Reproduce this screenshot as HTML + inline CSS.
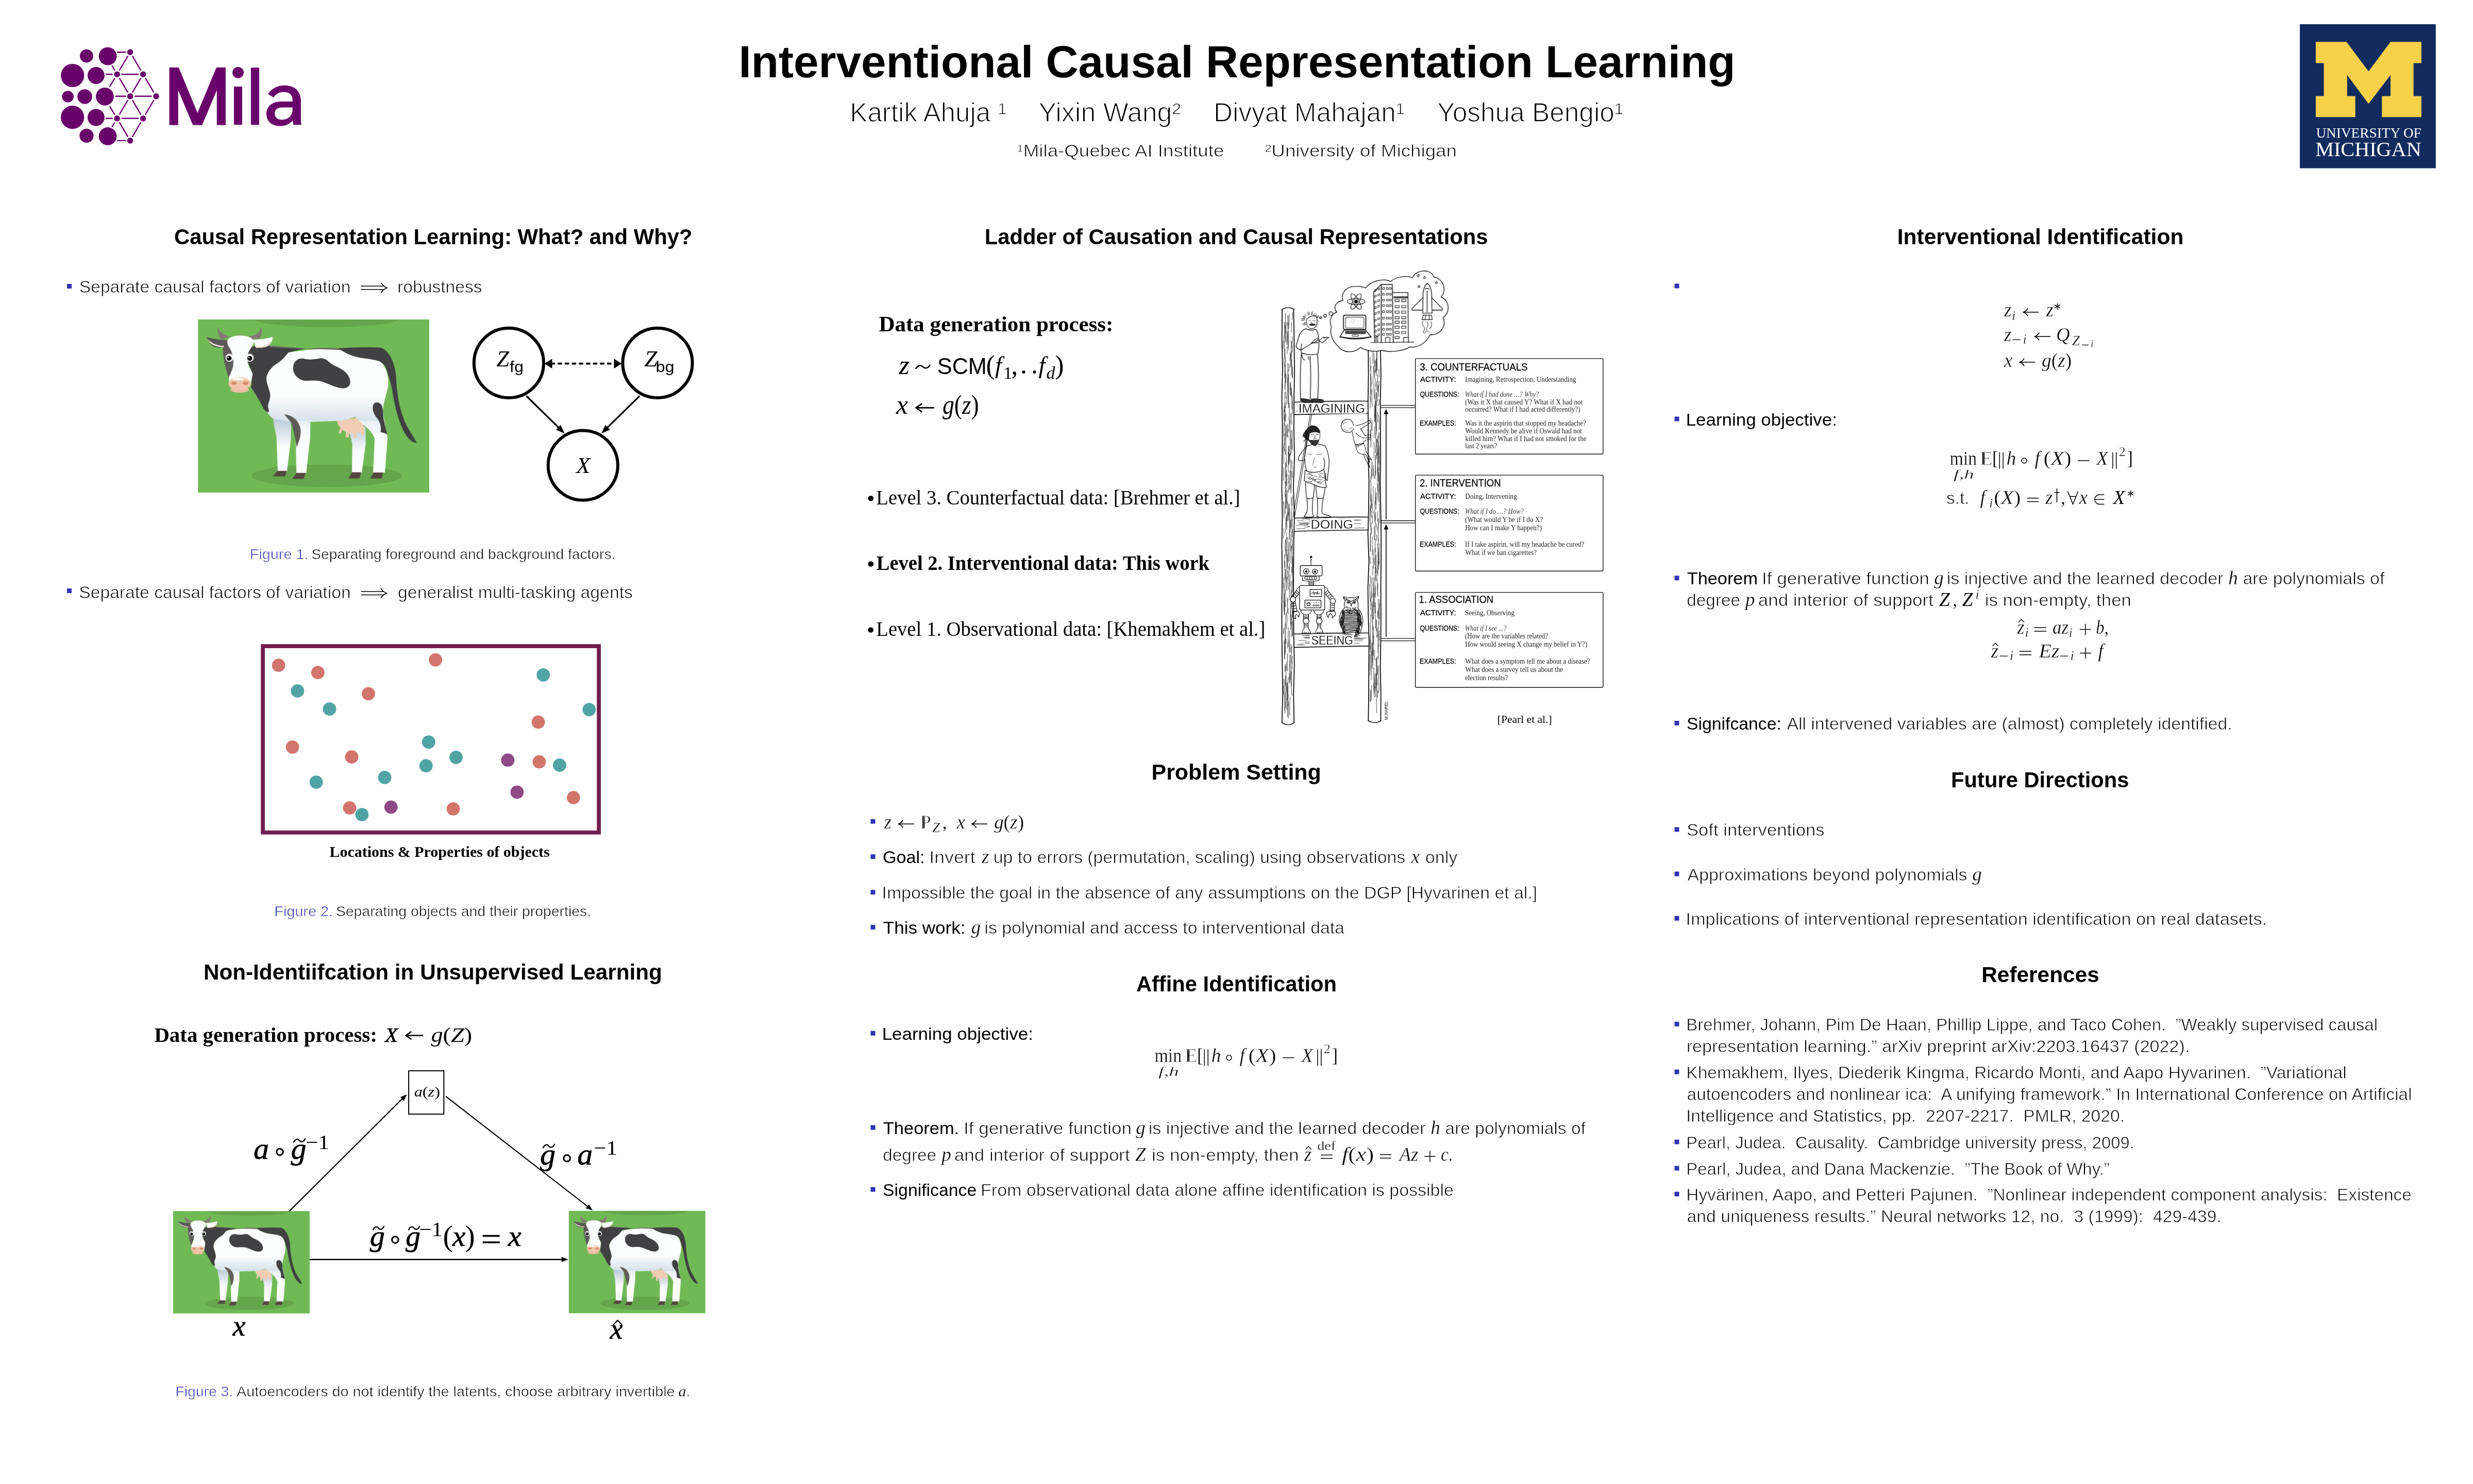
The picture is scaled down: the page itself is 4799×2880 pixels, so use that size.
<!DOCTYPE html>
<html><head><meta charset="utf-8"><title>Interventional Causal Representation Learning</title>
<style>html,body{margin:0;padding:0;background:#fff;}body{width:4799px;height:2880px;overflow:hidden;font-family:"Liberation Sans",sans-serif;}svg{display:block;will-change:transform;}text{white-space:pre;}</style></head>
<body><svg width="4799" height="2880" viewBox="0 0 4799 2880">
<defs><linearGradient id="lg1" x1="0" y1="0" x2="0" y2="1"><stop offset="0" stop-color="#b9c9d6"/><stop offset="0.55" stop-color="#fdfeff"/></linearGradient>
<linearGradient id="lg2" gradientUnits="userSpaceOnUse" x1="0" y1="300" x2="0" y2="1280"><stop offset="0.38" stop-color="#fdfeff"/><stop offset="0.575" stop-color="#d6e2ea"/><stop offset="0.585" stop-color="#e9eff4"/><stop offset="0.72" stop-color="#fdfeff"/></linearGradient>
<linearGradient id="lg3" x1="0" y1="0" x2="1" y2="0"><stop offset="0.5" stop-color="#fdfeff"/><stop offset="1" stop-color="#c9d7e2"/></linearGradient></defs>
<rect width="4799" height="2880" fill="#fff"/>
<g fill="#69016b">
<circle cx="140.7" cy="146.5" r="22.6"/>
<circle cx="140.7" cy="227.6" r="22.6"/>
<circle cx="167.9" cy="108.7" r="12.9"/>
<circle cx="209.1" cy="109.1" r="17.4"/>
<circle cx="186.4" cy="146.5" r="16.5"/>
<circle cx="131.6" cy="187.5" r="11.3"/>
<circle cx="164.5" cy="187.5" r="14.3"/>
<circle cx="203.4" cy="187.3" r="17.4"/>
<circle cx="186.4" cy="228" r="16.5"/>
<circle cx="167.9" cy="263.3" r="13.6"/>
<circle cx="209.1" cy="264.5" r="17.4"/>
<circle cx="252.6" cy="101.2" r="5.8"/>
<circle cx="227.2" cy="144.2" r="5.8"/>
<circle cx="277.7" cy="144.2" r="5.8"/>
<circle cx="252.6" cy="186.8" r="5.8"/>
<circle cx="303" cy="186.8" r="5.8"/>
<circle cx="227.2" cy="229.8" r="5.8"/>
<circle cx="277.7" cy="229.8" r="5.8"/>
<circle cx="252.6" cy="272.9" r="5.8"/>
</g>
<path d="M247.8,109.4L232.0,136.0M257.4,109.4L272.9,136.0M236.7,144.2L268.2,144.2M232.1,152.4L247.7,178.6M272.9,152.4L257.4,178.6M282.6,152.4L298.1,178.6M262.1,186.8L293.5,186.8M247.8,195.0L232.0,221.6M257.4,195.0L272.9,221.6M298.2,195.0L282.5,221.6M236.7,229.8L268.2,229.8M232.0,238.0L247.8,264.7M272.9,238.0L257.4,264.7M228.3,101.2H243.5M228.3,272.9H243.5M206,144.2H217.7M206,229.8H217.7M224.5,186.8H243.5M222.2,152.4L213.2,167.6M217.7,128L222.2,135.9M213.2,206.7L222.2,221.9M222.2,238.4L217.7,245.7" stroke="#69016b" stroke-width="2.4" stroke-linecap="round" fill="none"/>
<g fill="#69016b">
<path d="M329,242.3V131.3H346.5L383.3,220L420.2,131.3H437.5V242.3H421.2V173L392,242.3H374.5L345.3,173V242.3Z" stroke="#69016b" stroke-width="0.8" stroke-linejoin="round"/>
<circle cx="462" cy="140.8" r="10.9"/><rect x="454" y="168" width="16" height="74.3" rx="1.5"/>
<rect x="486.9" y="131.3" width="16.1" height="111" rx="1.5"/>
</g>
<path d="M520.0,182.5C526.9,171.5 539.2,165.7 551.6,165.7C572.2,165.7 583.9,177.0 583.9,196.2L583.9,237.5L584.9,242.3L569.5,242.3L567.8,234.0C561.2,241.6 553.0,244.6 543.3,244.6C526.9,244.6 517.0,234.7 517.0,221.0C517.0,205.9 528.2,197.3 546.1,196.9L567.8,196.9L567.8,194.9C567.8,183.9 561.2,178.6 550.9,178.6C542.0,178.6 535.1,182.5 531.0,189.1ZM567.8,208.6L547.5,208.6C537.8,208.9 533.0,213.4 533.0,220.7C533.0,228.5 539.2,232.3 547.5,232.3C559.8,232.3 567.8,223.7 567.8,212.7Z" fill="#69016b" fill-rule="evenodd"/>
<rect x="4463" y="47" width="263.8" height="279.5" fill="#112b5e"/>
<polygon points="4493.9,81.2 4553.5,81.2 4596.3,138.6 4638.9,81.2 4698.9,81.2 4698.9,122.4 4683.6,122.4 4683.6,186.5 4698.9,186.5 4698.9,227.3 4622.2,227.3 4622.2,186.5 4638.9,186.5 4638.9,145.5 4596.3,201.6 4554.8,145.5 4554.8,186.5 4570.6,186.5 4570.6,227.3 4493.9,227.3 4493.9,186.5 4509.5,186.5 4509.5,122.4 4493.9,122.4" fill="#f7d14a"/>
<text x="4494.4" y="266.9" font-family='"Liberation Serif", serif' font-size="27.5" fill="#fff" textLength="204.4" lengthAdjust="spacingAndGlyphs">UNIVERSITY OF</text>
<text x="4493.2" y="302.9" font-family='"Liberation Serif", serif' font-size="41" fill="#fff" textLength="205.5" lengthAdjust="spacingAndGlyphs">MICHIGAN</text>
<text x="1433.4" y="149.8" font-family='"Liberation Sans", sans-serif' font-size="87" font-weight="bold" textLength="1934.1" lengthAdjust="spacingAndGlyphs">Interventional Causal Representation Learning</text>
<text x="1649.3" y="236.3" font-family='"Liberation Sans", sans-serif' font-size="51" textLength="304.2" lengthAdjust="spacingAndGlyphs" stroke="#fff" stroke-width="1.5">Kartik Ahuja ¹</text>
<text x="2015.6" y="236.3" font-family='"Liberation Sans", sans-serif' font-size="51" textLength="276.2" lengthAdjust="spacingAndGlyphs" stroke="#fff" stroke-width="1.5">Yixin Wang²</text>
<text x="2355.0" y="236.3" font-family='"Liberation Sans", sans-serif' font-size="51" textLength="370.8" lengthAdjust="spacingAndGlyphs" stroke="#fff" stroke-width="1.5">Divyat Mahajan¹</text>
<text x="2789.1" y="236.3" font-family='"Liberation Sans", sans-serif' font-size="51" textLength="360.9" lengthAdjust="spacingAndGlyphs" stroke="#fff" stroke-width="1.5">Yoshua Bengio¹</text>
<text x="1973.6" y="303.8" font-family='"Liberation Sans", sans-serif' font-size="34" textLength="401.7" lengthAdjust="spacingAndGlyphs" stroke="#fff" stroke-width="0.9">¹Mila-Quebec AI Institute</text>
<text x="2455.1" y="303.8" font-family='"Liberation Sans", sans-serif' font-size="34" textLength="371.9" lengthAdjust="spacingAndGlyphs" stroke="#fff" stroke-width="0.9">²University of Michigan</text>
<text x="338.0" y="473.9" font-family='"Liberation Sans", sans-serif' font-size="42" font-weight="bold" textLength="1005.5" lengthAdjust="spacingAndGlyphs">Causal Representation Learning: What? and Why?</text>
<text x="1910.8" y="473.8" font-family='"Liberation Sans", sans-serif' font-size="42" font-weight="bold" textLength="976.8" lengthAdjust="spacingAndGlyphs">Ladder of Causation and Causal Representations</text>
<text x="3681.7" y="473.7" font-family='"Liberation Sans", sans-serif' font-size="42" font-weight="bold" textLength="555.7" lengthAdjust="spacingAndGlyphs">Interventional Identification</text>
<text x="2234.5" y="1512.6" font-family='"Liberation Sans", sans-serif' font-size="42" font-weight="bold" textLength="329.3" lengthAdjust="spacingAndGlyphs">Problem Setting</text>
<text x="2204.9" y="1923.5" font-family='"Liberation Sans", sans-serif' font-size="42" font-weight="bold" textLength="389.0" lengthAdjust="spacingAndGlyphs">Affine Identification</text>
<text x="3786.1" y="1527.7" font-family='"Liberation Sans", sans-serif' font-size="42" font-weight="bold" textLength="345.4" lengthAdjust="spacingAndGlyphs">Future Directions</text>
<text x="3845.2" y="1905.8" font-family='"Liberation Sans", sans-serif' font-size="42" font-weight="bold" textLength="228.6" lengthAdjust="spacingAndGlyphs">References</text>
<text x="394.9" y="1901.0" font-family='"Liberation Sans", sans-serif' font-size="42" font-weight="bold" textLength="890.0" lengthAdjust="spacingAndGlyphs">Non-Identiifcation in Unsupervised Learning</text>
<rect x="130.0" y="551.0" width="9" height="9" fill="#3333b2"/>
<text x="153.8" y="568.0" font-family='"Liberation Sans", sans-serif' font-size="34" textLength="526.6" lengthAdjust="spacingAndGlyphs" stroke="#fff" stroke-width="0.85">Separate causal factors of variation</text>
<path d="M700.0,555.3H746.0M700.0,561.7H746.0" stroke="#000" stroke-width="1.5" fill="none"/><path d="M740.0,549.5Q744.0,556.0 751.0,558.5Q744.0,561.0 740.0,567.5" stroke="#000" stroke-width="1.5" fill="none" stroke-linecap="round"/>
<text x="771.1" y="568.0" font-family='"Liberation Sans", sans-serif' font-size="34" textLength="164.5" lengthAdjust="spacingAndGlyphs" stroke="#fff" stroke-width="0.85">robustness</text>
<svg x="384.2" y="620" width="448.8" height="336" viewBox="57 80 1800 1348" preserveAspectRatio="none"><rect x="57" y="80" width="1800" height="1348" fill="#70ba56"/>
<ellipse cx="1060" cy="72" rx="570" ry="68" fill="#65a54b"/>
<ellipse cx="1060" cy="1297" rx="585" ry="88" fill="#65a54b"/>
<path d="M1470,300 C1540,320 1585,400 1598,520 C1605,640 1620,780 1680,905 C1700,940 1740,1000 1760,1042 C1735,1040 1712,1028 1690,1000 C1650,950 1610,850 1580,700 C1570,640 1560,580 1548,545 Z" fill="#414042"/>
<path d="M640,850 L782,868 L780,1010 L750,1262 L678,1262 L668,1000 Z" fill="url(#lg1)"/>
<path d="M1235,950 L1362,915 L1362,1050 L1332,1272 L1255,1272 L1258,1050 Z" fill="url(#lg1)"/>
<path d="M1140,868 C1200,862 1260,850 1295,845 C1330,870 1355,905 1352,950 L1345,985 Q1335,990 1328,980 L1318,955 L1290,962 L1288,1000 Q1278,1008 1270,998 L1265,965 L1235,968 L1228,998 Q1215,1004 1205,992 L1210,958 L1180,940 L1170,968 Q1158,972 1152,960 L1165,925 C1150,905 1142,888 1140,868 Z" fill="#f0cdb3"/>
<path d="M760,338 C900,315 1050,305 1150,305 C1200,340 1250,365 1320,378 C1400,390 1470,395 1490,420 C1530,470 1545,540 1535,610 C1520,680 1495,740 1498,800 C1505,880 1530,950 1532,1010 L1512,1272 L1420,1272 L1432,1010 C1420,970 1390,935 1350,905 C1320,880 1295,855 1280,838 C1240,855 1180,868 1140,870 L932,876 L930,1000 L900,1277 L823,1277 L818,1010 C810,950 800,900 780,870 C730,868 680,862 640,850 C610,830 590,800 588,770 C600,730 625,700 618,660 C610,610 585,570 590,530 C600,480 640,440 690,410 C720,390 740,360 760,338 Z" fill="url(#lg2)"/>
<path d="M470,290 C520,285 580,282 640,290 C720,296 820,305 900,307 C850,315 800,325 760,338 C740,360 720,390 690,410 C640,440 600,480 590,530 C585,570 610,610 618,660 C625,700 600,730 602,760 C605,780 612,790 608,800 C590,805 575,790 560,760 C540,720 500,650 470,610 C475,570 480,530 478,490 C460,450 445,420 440,380 C440,340 455,310 470,290 Z" fill="#414042"/>
<path d="M600,283 C700,290 820,300 900,307 C1000,300 1100,300 1150,305 C1250,296 1400,292 1490,302 C1400,312 1250,318 1165,318 C1000,308 800,312 620,296 Z" fill="#6b6764"/>
<path d="M1150,305 C1280,298 1400,295 1480,300 C1540,320 1585,400 1598,520 L1548,548 C1540,480 1520,440 1490,420 C1470,395 1400,390 1320,378 C1250,365 1200,340 1150,305 Z" fill="#414042"/>
<path d="M797,455 C800,400 840,378 880,385 C930,400 980,385 1020,382 C1060,385 1080,420 1120,440 C1180,465 1235,500 1242,560 C1245,600 1215,620 1170,615 C1110,605 1060,570 1000,558 C950,550 900,565 860,550 C820,530 795,495 797,455 Z" fill="#414042"/>
<path d="M728,818 C790,825 840,860 855,930 C862,990 840,1040 825,1075 C815,1000 800,930 780,880 Z" fill="#5f5b57"/>
<path d="M1418,760 C1420,730 1445,718 1470,732 C1495,745 1500,790 1498,830 C1505,890 1525,940 1530,975 C1510,965 1490,960 1478,958 C1485,920 1478,890 1460,860 C1435,830 1415,800 1418,760 Z" fill="#414042"/>
<polygon points="675,1258 748,1258 735,1302 640,1302" fill="#554740"/>
<polygon points="825,1275 895,1275 880,1322 790,1322" fill="#554740"/>
<polygon points="1255,1270 1325,1270 1315,1318 1228,1318" fill="#554740"/>
<polygon points="1425,1272 1495,1272 1490,1318 1398,1318" fill="#554740"/>
<path d="M210,135 C225,180 260,205 310,212 L240,236 C215,210 205,170 210,135 Z" fill="#857a77"/>
<path d="M548,135 C540,180 505,205 455,210 L480,234 L540,226 C555,195 558,165 548,135 Z" fill="#857a77"/>
<path d="M125,215 C170,232 230,238 290,240 L292,282 C260,300 220,300 190,296 C160,285 135,250 125,215 Z" fill="#5b5859"/>
<path d="M132,232 C150,270 175,290 260,296 L258,286 C200,282 160,262 132,232 Z" fill="#f3ddd6"/>
<path d="M488,236 C540,236 600,230 638,214 C640,250 615,285 580,296 C550,302 520,302 505,298 Z" fill="#fdfeff"/>
<path d="M508,292 C550,296 600,280 628,250 C615,285 590,300 510,303 Z" fill="#f1d6cd"/>
<path d="M250,300 L290,278 L335,350 L332,440 L296,535 C275,470 252,400 250,300 Z" fill="#5f5b5a"/>
<path d="M285,245 C300,215 340,205 385,205 C430,205 470,215 488,240 C495,260 485,285 465,310 C445,335 438,370 445,420 C455,460 480,480 482,510 L468,570 L300,570 L298,530 C310,500 330,470 332,430 C335,380 325,340 305,305 C290,285 282,265 285,245 Z" fill="#fdfeff"/>
<ellipse cx="382" cy="628" rx="72" ry="22" fill="#ecbfa3"/>
<ellipse cx="382" cy="580" rx="88" ry="50" fill="#f1c6ab"/>
<ellipse cx="372" cy="545" rx="45" ry="9" fill="#fff"/>
<ellipse cx="336" cy="576" rx="22" ry="14" fill="#d98b6e"/><ellipse cx="428" cy="576" rx="22" ry="14" fill="#d98b6e"/>
<circle cx="302" cy="378" r="31" fill="#f4f4f4"/><circle cx="299" cy="382" r="19" fill="#000"/><circle cx="293" cy="376" r="5" fill="#fff"/>
<circle cx="460" cy="378" r="31" fill="#f4f4f4"/><circle cx="460" cy="383" r="19" fill="#000"/><circle cx="454" cy="377" r="5" fill="#fff"/></svg>
<circle cx="987.4" cy="704.4" r="67.6" fill="#fff" stroke="#000" stroke-width="6"/>
<circle cx="1276" cy="704.4" r="67.6" fill="#fff" stroke="#000" stroke-width="6"/>
<circle cx="1131.3" cy="903.1" r="67.6" fill="#fff" stroke="#000" stroke-width="6"/>
<path d="M1068.5,705.7L1194.5,705.7" stroke="#000" stroke-width="3.8" fill="none" stroke-dasharray="8.5 5.2"/><polygon points="1206.5,705.7 1191.5,715.2 1191.5,696.2" fill="#000"/><polygon points="1056.5,705.7 1071.5,715.2 1071.5,696.2" fill="#000"/>
<path d="M1021.5,768.5L1085.9,831.7" stroke="#000" stroke-width="3.2" fill="none"/><polygon points="1095.6,841.2 1078.9,833.9 1088.0,824.7" fill="#000"/>
<path d="M1241.2,768.5L1176.7,831.7" stroke="#000" stroke-width="3.2" fill="none"/><polygon points="1167.0,841.2 1174.6,824.7 1183.7,833.9" fill="#000"/>
<text x="963.3" y="711.0" font-family='"Liberation Serif", serif' font-size="45" font-style="italic">Z</text>
<text x="989.0" y="721.8" font-family='"Liberation Sans", sans-serif' font-size="30" textLength="27.0" lengthAdjust="spacingAndGlyphs">fg</text>
<text x="1250.6" y="711.0" font-family='"Liberation Serif", serif' font-size="45" font-style="italic">Z</text>
<text x="1272.4" y="721.8" font-family='"Liberation Sans", sans-serif' font-size="30" textLength="36.1" lengthAdjust="spacingAndGlyphs">bg</text>
<text x="1118.0" y="918.0" font-family='"Liberation Serif", serif' font-size="45" font-style="italic">X</text>
<text x="484.8" y="1085.0" font-family='"Liberation Sans", sans-serif' font-size="28" fill="#3333b2" textLength="113.7" lengthAdjust="spacingAndGlyphs" stroke="#fff" stroke-width="0.7">Figure 1.</text>
<text x="604.3" y="1085.0" font-family='"Liberation Sans", sans-serif' font-size="28" textLength="590.0" lengthAdjust="spacingAndGlyphs" stroke="#fff" stroke-width="0.7">Separating foreground and background factors.</text>
<rect x="130.0" y="1142.0" width="9" height="9" fill="#3333b2"/>
<text x="153.3" y="1160.7" font-family='"Liberation Sans", sans-serif' font-size="34" textLength="527.3" lengthAdjust="spacingAndGlyphs" stroke="#fff" stroke-width="0.85">Separate causal factors of variation</text>
<path d="M700.7,1148.0H745.2M700.7,1154.4H745.2" stroke="#000" stroke-width="1.5" fill="none"/><path d="M739.2,1142.2Q743.2,1148.7 750.2,1151.2Q743.2,1153.7 739.2,1160.2" stroke="#000" stroke-width="1.5" fill="none" stroke-linecap="round"/>
<text x="772.1" y="1160.7" font-family='"Liberation Sans", sans-serif' font-size="34" textLength="455.8" lengthAdjust="spacingAndGlyphs" stroke="#fff" stroke-width="0.85">generalist multi-tasking agents</text>
<rect x="510.1" y="1254" width="652" height="361.6" fill="#fff" stroke="#6f1f4f" stroke-width="7.8"/>
<circle cx="540.6" cy="1291.1" r="12.9" fill="#d2756c"/>
<circle cx="616.8" cy="1305.2" r="12.9" fill="#d2756c"/>
<circle cx="845.1" cy="1280.6" r="12.9" fill="#d2756c"/>
<circle cx="714.9" cy="1346.3" r="12.9" fill="#d2756c"/>
<circle cx="1044.4" cy="1401.4" r="12.9" fill="#d2756c"/>
<circle cx="567.6" cy="1449.8" r="12.9" fill="#d2756c"/>
<circle cx="682.5" cy="1469.0" r="12.9" fill="#d2756c"/>
<circle cx="1046.4" cy="1478.4" r="12.9" fill="#d2756c"/>
<circle cx="1112.8" cy="1548.0" r="12.9" fill="#d2756c"/>
<circle cx="678.6" cy="1567.9" r="12.9" fill="#d2756c"/>
<circle cx="879.5" cy="1569.8" r="12.9" fill="#d2756c"/>
<circle cx="577.3" cy="1340.8" r="12.9" fill="#50a4a3"/>
<circle cx="639.5" cy="1376.0" r="12.9" fill="#50a4a3"/>
<circle cx="1054.2" cy="1309.9" r="12.9" fill="#50a4a3"/>
<circle cx="1143.3" cy="1377.1" r="12.9" fill="#50a4a3"/>
<circle cx="831.8" cy="1440.1" r="12.9" fill="#50a4a3"/>
<circle cx="885.0" cy="1469.8" r="12.9" fill="#50a4a3"/>
<circle cx="826.7" cy="1486.2" r="12.9" fill="#50a4a3"/>
<circle cx="1085.9" cy="1485.0" r="12.9" fill="#50a4a3"/>
<circle cx="746.6" cy="1508.9" r="12.9" fill="#50a4a3"/>
<circle cx="613.7" cy="1517.9" r="12.9" fill="#50a4a3"/>
<circle cx="702.4" cy="1580.8" r="12.9" fill="#50a4a3"/>
<circle cx="985.4" cy="1475.2" r="12.9" fill="#8f4986"/>
<circle cx="1003.4" cy="1537.4" r="12.9" fill="#8f4986"/>
<circle cx="758.7" cy="1566.3" r="12.9" fill="#8f4986"/>
<text x="639.5" y="1662.9" font-family='"Liberation Serif", serif' font-size="29.5" font-weight="bold" textLength="427.2" lengthAdjust="spacingAndGlyphs">Locations &amp; Properties of objects</text>
<text x="532.3" y="1778.0" font-family='"Liberation Sans", sans-serif' font-size="28" fill="#3333b2" textLength="113.7" lengthAdjust="spacingAndGlyphs" stroke="#fff" stroke-width="0.7">Figure 2.</text>
<text x="651.9" y="1778.0" font-family='"Liberation Sans", sans-serif' font-size="28" textLength="495.2" lengthAdjust="spacingAndGlyphs" stroke="#fff" stroke-width="0.7">Separating objects and their properties.</text>
<text x="299.4" y="2021.5" font-family='"Liberation Serif", serif' font-size="40.5" font-weight="bold" textLength="432.4" lengthAdjust="spacingAndGlyphs">Data generation process:</text>
<text x="747.0" y="2021.5" font-family='"Liberation Serif", serif' font-size="41" font-style="italic" stroke="#000" stroke-width="0.7">X</text>
<path d="M788.3,2009.5H821.0M798.3,2002.0L787.8,2009.5L798.3,2017.0" stroke="#000" stroke-width="2.6" fill="none" stroke-linejoin="miter"/>
<text x="836.5" y="2021.5" font-family='"Liberation Serif", serif' font-size="41" textLength="79.7" lengthAdjust="spacingAndGlyphs"><tspan font-style="italic">g</tspan>(<tspan font-style="italic">Z</tspan>)</text>
<rect x="793.1" y="2078.1" width="68.2" height="84.1" fill="#fff" stroke="#000" stroke-width="2"/>
<text x="803.7" y="2128.2" font-family='"Liberation Serif", serif' font-size="27" textLength="50.3" lengthAdjust="spacingAndGlyphs"><tspan font-style="italic">a</tspan>(<tspan font-style="italic">z</tspan>)</text>
<path d="M561.4,2350.6L782.1,2131.0" stroke="#000" stroke-width="2.2" fill="none"/><polygon points="789.5,2123.7 783.8,2136.4 776.8,2129.3" fill="#000"/>
<path d="M864.9,2127.6L1141.8,2342.5" stroke="#000" stroke-width="2.2" fill="none"/><polygon points="1150.0,2348.9 1136.7,2344.9 1142.8,2337.0" fill="#000"/>
<path d="M600.8,2444.2L1092.4,2444.2" stroke="#000" stroke-width="2.4" fill="none"/><polygon points="1102.8,2444.2 1089.8,2449.2 1089.8,2439.2" fill="#000"/>
<svg x="335.9" y="2350.4" width="265" height="198.3" viewBox="57 80 1800 1348" preserveAspectRatio="none"><rect x="57" y="80" width="1800" height="1348" fill="#70ba56"/>
<ellipse cx="1060" cy="72" rx="570" ry="68" fill="#65a54b"/>
<ellipse cx="1060" cy="1297" rx="585" ry="88" fill="#65a54b"/>
<path d="M1470,300 C1540,320 1585,400 1598,520 C1605,640 1620,780 1680,905 C1700,940 1740,1000 1760,1042 C1735,1040 1712,1028 1690,1000 C1650,950 1610,850 1580,700 C1570,640 1560,580 1548,545 Z" fill="#414042"/>
<path d="M640,850 L782,868 L780,1010 L750,1262 L678,1262 L668,1000 Z" fill="url(#lg1)"/>
<path d="M1235,950 L1362,915 L1362,1050 L1332,1272 L1255,1272 L1258,1050 Z" fill="url(#lg1)"/>
<path d="M1140,868 C1200,862 1260,850 1295,845 C1330,870 1355,905 1352,950 L1345,985 Q1335,990 1328,980 L1318,955 L1290,962 L1288,1000 Q1278,1008 1270,998 L1265,965 L1235,968 L1228,998 Q1215,1004 1205,992 L1210,958 L1180,940 L1170,968 Q1158,972 1152,960 L1165,925 C1150,905 1142,888 1140,868 Z" fill="#f0cdb3"/>
<path d="M760,338 C900,315 1050,305 1150,305 C1200,340 1250,365 1320,378 C1400,390 1470,395 1490,420 C1530,470 1545,540 1535,610 C1520,680 1495,740 1498,800 C1505,880 1530,950 1532,1010 L1512,1272 L1420,1272 L1432,1010 C1420,970 1390,935 1350,905 C1320,880 1295,855 1280,838 C1240,855 1180,868 1140,870 L932,876 L930,1000 L900,1277 L823,1277 L818,1010 C810,950 800,900 780,870 C730,868 680,862 640,850 C610,830 590,800 588,770 C600,730 625,700 618,660 C610,610 585,570 590,530 C600,480 640,440 690,410 C720,390 740,360 760,338 Z" fill="url(#lg2)"/>
<path d="M470,290 C520,285 580,282 640,290 C720,296 820,305 900,307 C850,315 800,325 760,338 C740,360 720,390 690,410 C640,440 600,480 590,530 C585,570 610,610 618,660 C625,700 600,730 602,760 C605,780 612,790 608,800 C590,805 575,790 560,760 C540,720 500,650 470,610 C475,570 480,530 478,490 C460,450 445,420 440,380 C440,340 455,310 470,290 Z" fill="#414042"/>
<path d="M600,283 C700,290 820,300 900,307 C1000,300 1100,300 1150,305 C1250,296 1400,292 1490,302 C1400,312 1250,318 1165,318 C1000,308 800,312 620,296 Z" fill="#6b6764"/>
<path d="M1150,305 C1280,298 1400,295 1480,300 C1540,320 1585,400 1598,520 L1548,548 C1540,480 1520,440 1490,420 C1470,395 1400,390 1320,378 C1250,365 1200,340 1150,305 Z" fill="#414042"/>
<path d="M797,455 C800,400 840,378 880,385 C930,400 980,385 1020,382 C1060,385 1080,420 1120,440 C1180,465 1235,500 1242,560 C1245,600 1215,620 1170,615 C1110,605 1060,570 1000,558 C950,550 900,565 860,550 C820,530 795,495 797,455 Z" fill="#414042"/>
<path d="M728,818 C790,825 840,860 855,930 C862,990 840,1040 825,1075 C815,1000 800,930 780,880 Z" fill="#5f5b57"/>
<path d="M1418,760 C1420,730 1445,718 1470,732 C1495,745 1500,790 1498,830 C1505,890 1525,940 1530,975 C1510,965 1490,960 1478,958 C1485,920 1478,890 1460,860 C1435,830 1415,800 1418,760 Z" fill="#414042"/>
<polygon points="675,1258 748,1258 735,1302 640,1302" fill="#554740"/>
<polygon points="825,1275 895,1275 880,1322 790,1322" fill="#554740"/>
<polygon points="1255,1270 1325,1270 1315,1318 1228,1318" fill="#554740"/>
<polygon points="1425,1272 1495,1272 1490,1318 1398,1318" fill="#554740"/>
<path d="M210,135 C225,180 260,205 310,212 L240,236 C215,210 205,170 210,135 Z" fill="#857a77"/>
<path d="M548,135 C540,180 505,205 455,210 L480,234 L540,226 C555,195 558,165 548,135 Z" fill="#857a77"/>
<path d="M125,215 C170,232 230,238 290,240 L292,282 C260,300 220,300 190,296 C160,285 135,250 125,215 Z" fill="#5b5859"/>
<path d="M132,232 C150,270 175,290 260,296 L258,286 C200,282 160,262 132,232 Z" fill="#f3ddd6"/>
<path d="M488,236 C540,236 600,230 638,214 C640,250 615,285 580,296 C550,302 520,302 505,298 Z" fill="#fdfeff"/>
<path d="M508,292 C550,296 600,280 628,250 C615,285 590,300 510,303 Z" fill="#f1d6cd"/>
<path d="M250,300 L290,278 L335,350 L332,440 L296,535 C275,470 252,400 250,300 Z" fill="#5f5b5a"/>
<path d="M285,245 C300,215 340,205 385,205 C430,205 470,215 488,240 C495,260 485,285 465,310 C445,335 438,370 445,420 C455,460 480,480 482,510 L468,570 L300,570 L298,530 C310,500 330,470 332,430 C335,380 325,340 305,305 C290,285 282,265 285,245 Z" fill="#fdfeff"/>
<ellipse cx="382" cy="628" rx="72" ry="22" fill="#ecbfa3"/>
<ellipse cx="382" cy="580" rx="88" ry="50" fill="#f1c6ab"/>
<ellipse cx="372" cy="545" rx="45" ry="9" fill="#fff"/>
<ellipse cx="336" cy="576" rx="22" ry="14" fill="#d98b6e"/><ellipse cx="428" cy="576" rx="22" ry="14" fill="#d98b6e"/>
<circle cx="302" cy="378" r="31" fill="#f4f4f4"/><circle cx="299" cy="382" r="19" fill="#000"/><circle cx="293" cy="376" r="5" fill="#fff"/>
<circle cx="460" cy="378" r="31" fill="#f4f4f4"/><circle cx="460" cy="383" r="19" fill="#000"/><circle cx="454" cy="377" r="5" fill="#fff"/></svg>
<svg x="1103.8" y="2349.9" width="265.1" height="198.7" viewBox="57 80 1800 1348" preserveAspectRatio="none"><rect x="57" y="80" width="1800" height="1348" fill="#70ba56"/>
<ellipse cx="1060" cy="72" rx="570" ry="68" fill="#65a54b"/>
<ellipse cx="1060" cy="1297" rx="585" ry="88" fill="#65a54b"/>
<path d="M1470,300 C1540,320 1585,400 1598,520 C1605,640 1620,780 1680,905 C1700,940 1740,1000 1760,1042 C1735,1040 1712,1028 1690,1000 C1650,950 1610,850 1580,700 C1570,640 1560,580 1548,545 Z" fill="#414042"/>
<path d="M640,850 L782,868 L780,1010 L750,1262 L678,1262 L668,1000 Z" fill="url(#lg1)"/>
<path d="M1235,950 L1362,915 L1362,1050 L1332,1272 L1255,1272 L1258,1050 Z" fill="url(#lg1)"/>
<path d="M1140,868 C1200,862 1260,850 1295,845 C1330,870 1355,905 1352,950 L1345,985 Q1335,990 1328,980 L1318,955 L1290,962 L1288,1000 Q1278,1008 1270,998 L1265,965 L1235,968 L1228,998 Q1215,1004 1205,992 L1210,958 L1180,940 L1170,968 Q1158,972 1152,960 L1165,925 C1150,905 1142,888 1140,868 Z" fill="#f0cdb3"/>
<path d="M760,338 C900,315 1050,305 1150,305 C1200,340 1250,365 1320,378 C1400,390 1470,395 1490,420 C1530,470 1545,540 1535,610 C1520,680 1495,740 1498,800 C1505,880 1530,950 1532,1010 L1512,1272 L1420,1272 L1432,1010 C1420,970 1390,935 1350,905 C1320,880 1295,855 1280,838 C1240,855 1180,868 1140,870 L932,876 L930,1000 L900,1277 L823,1277 L818,1010 C810,950 800,900 780,870 C730,868 680,862 640,850 C610,830 590,800 588,770 C600,730 625,700 618,660 C610,610 585,570 590,530 C600,480 640,440 690,410 C720,390 740,360 760,338 Z" fill="url(#lg2)"/>
<path d="M470,290 C520,285 580,282 640,290 C720,296 820,305 900,307 C850,315 800,325 760,338 C740,360 720,390 690,410 C640,440 600,480 590,530 C585,570 610,610 618,660 C625,700 600,730 602,760 C605,780 612,790 608,800 C590,805 575,790 560,760 C540,720 500,650 470,610 C475,570 480,530 478,490 C460,450 445,420 440,380 C440,340 455,310 470,290 Z" fill="#414042"/>
<path d="M600,283 C700,290 820,300 900,307 C1000,300 1100,300 1150,305 C1250,296 1400,292 1490,302 C1400,312 1250,318 1165,318 C1000,308 800,312 620,296 Z" fill="#6b6764"/>
<path d="M1150,305 C1280,298 1400,295 1480,300 C1540,320 1585,400 1598,520 L1548,548 C1540,480 1520,440 1490,420 C1470,395 1400,390 1320,378 C1250,365 1200,340 1150,305 Z" fill="#414042"/>
<path d="M797,455 C800,400 840,378 880,385 C930,400 980,385 1020,382 C1060,385 1080,420 1120,440 C1180,465 1235,500 1242,560 C1245,600 1215,620 1170,615 C1110,605 1060,570 1000,558 C950,550 900,565 860,550 C820,530 795,495 797,455 Z" fill="#414042"/>
<path d="M728,818 C790,825 840,860 855,930 C862,990 840,1040 825,1075 C815,1000 800,930 780,880 Z" fill="#5f5b57"/>
<path d="M1418,760 C1420,730 1445,718 1470,732 C1495,745 1500,790 1498,830 C1505,890 1525,940 1530,975 C1510,965 1490,960 1478,958 C1485,920 1478,890 1460,860 C1435,830 1415,800 1418,760 Z" fill="#414042"/>
<polygon points="675,1258 748,1258 735,1302 640,1302" fill="#554740"/>
<polygon points="825,1275 895,1275 880,1322 790,1322" fill="#554740"/>
<polygon points="1255,1270 1325,1270 1315,1318 1228,1318" fill="#554740"/>
<polygon points="1425,1272 1495,1272 1490,1318 1398,1318" fill="#554740"/>
<path d="M210,135 C225,180 260,205 310,212 L240,236 C215,210 205,170 210,135 Z" fill="#857a77"/>
<path d="M548,135 C540,180 505,205 455,210 L480,234 L540,226 C555,195 558,165 548,135 Z" fill="#857a77"/>
<path d="M125,215 C170,232 230,238 290,240 L292,282 C260,300 220,300 190,296 C160,285 135,250 125,215 Z" fill="#5b5859"/>
<path d="M132,232 C150,270 175,290 260,296 L258,286 C200,282 160,262 132,232 Z" fill="#f3ddd6"/>
<path d="M488,236 C540,236 600,230 638,214 C640,250 615,285 580,296 C550,302 520,302 505,298 Z" fill="#fdfeff"/>
<path d="M508,292 C550,296 600,280 628,250 C615,285 590,300 510,303 Z" fill="#f1d6cd"/>
<path d="M250,300 L290,278 L335,350 L332,440 L296,535 C275,470 252,400 250,300 Z" fill="#5f5b5a"/>
<path d="M285,245 C300,215 340,205 385,205 C430,205 470,215 488,240 C495,260 485,285 465,310 C445,335 438,370 445,420 C455,460 480,480 482,510 L468,570 L300,570 L298,530 C310,500 330,470 332,430 C335,380 325,340 305,305 C290,285 282,265 285,245 Z" fill="#fdfeff"/>
<ellipse cx="382" cy="628" rx="72" ry="22" fill="#ecbfa3"/>
<ellipse cx="382" cy="580" rx="88" ry="50" fill="#f1c6ab"/>
<ellipse cx="372" cy="545" rx="45" ry="9" fill="#fff"/>
<ellipse cx="336" cy="576" rx="22" ry="14" fill="#d98b6e"/><ellipse cx="428" cy="576" rx="22" ry="14" fill="#d98b6e"/>
<circle cx="302" cy="378" r="31" fill="#f4f4f4"/><circle cx="299" cy="382" r="19" fill="#000"/><circle cx="293" cy="376" r="5" fill="#fff"/>
<circle cx="460" cy="378" r="31" fill="#f4f4f4"/><circle cx="460" cy="383" r="19" fill="#000"/><circle cx="454" cy="377" r="5" fill="#fff"/></svg>
<text x="491.9" y="2248.9" font-family='"Liberation Serif", serif' font-size="60" font-style="italic" stroke="#000" stroke-width="0.7">a</text>
<circle cx="543.0" cy="2235.6" r="6.3" fill="none" stroke="#000" stroke-width="3"/>
<text x="564.6" y="2248.9" font-family='"Liberation Serif", serif' font-size="60" font-style="italic" stroke="#000" stroke-width="0.7">g</text>
<path d="M570.0,2216.5C574.4,2208.5 578.8,2210.5 581.0,2213.5S588.7,2217.5 592.0,2210.0" stroke="#000" stroke-width="2.4" fill="none" stroke-linecap="round"/>
<text x="593.3" y="2230.0" font-family='"Liberation Serif", serif' font-size="40" textLength="45.8" lengthAdjust="spacingAndGlyphs">−1</text>
<text x="1047.9" y="2259.6" font-family='"Liberation Serif", serif' font-size="60" font-style="italic" stroke="#000" stroke-width="0.7">g</text>
<path d="M1054.0,2227.2C1058.4,2219.2 1062.8,2221.2 1065.0,2224.2S1072.7,2228.2 1076.0,2220.7" stroke="#000" stroke-width="2.4" fill="none" stroke-linecap="round"/>
<circle cx="1100.1" cy="2247.8" r="6.3" fill="none" stroke="#000" stroke-width="3"/>
<text x="1120.3" y="2259.6" font-family='"Liberation Serif", serif' font-size="60" font-style="italic" stroke="#000" stroke-width="0.7">a</text>
<text x="1152.2" y="2241.0" font-family='"Liberation Serif", serif' font-size="40" textLength="45.8" lengthAdjust="spacingAndGlyphs">−1</text>
<text x="717.8" y="2418.0" font-family='"Liberation Serif", serif' font-size="58" font-style="italic" stroke="#000" stroke-width="0.7">g</text>
<path d="M724.0,2386.5C728.2,2378.5 732.4,2380.5 734.5,2383.5S741.9,2387.5 745.0,2380.0" stroke="#000" stroke-width="2.4" fill="none" stroke-linecap="round"/>
<circle cx="766.9" cy="2406.1" r="6.3" fill="none" stroke="#000" stroke-width="3"/>
<text x="787.0" y="2418.0" font-family='"Liberation Serif", serif' font-size="58" font-style="italic" stroke="#000" stroke-width="0.7">g</text>
<path d="M793.0,2386.5C797.2,2378.5 801.4,2380.5 803.5,2383.5S810.9,2387.5 814.0,2380.0" stroke="#000" stroke-width="2.4" fill="none" stroke-linecap="round"/>
<text x="813.3" y="2399.0" font-family='"Liberation Serif", serif' font-size="40" textLength="45.5" lengthAdjust="spacingAndGlyphs">−1</text>
<text x="859.4" y="2418.0" font-family='"Liberation Serif", serif' font-size="58">(</text>
<text x="877.7" y="2418.0" font-family='"Liberation Serif", serif' font-size="58" font-style="italic" stroke="#000" stroke-width="0.7">x</text>
<text x="902.6" y="2418.0" font-family='"Liberation Serif", serif' font-size="58">)</text>
<path d="M936.7,2398.5H969.7M936.7,2411H969.7" stroke="#000" stroke-width="3.4"/>
<text x="986.0" y="2418.0" font-family='"Liberation Serif", serif' font-size="58" font-style="italic" stroke="#000" stroke-width="0.7">x</text>
<text x="451.4" y="2592.3" font-family='"Liberation Serif", serif' font-size="56" font-style="italic" stroke="#000" stroke-width="0.7">x</text>
<text x="1183.8" y="2598.2" font-family='"Liberation Serif", serif' font-size="56" font-style="italic" stroke="#000" stroke-width="0.7">x</text>
<path d="M1190.0,2571.0L1198.5,2562.5L1207.0,2571.0" stroke="#000" stroke-width="2.4" fill="none"/>
<text x="340.4" y="2709.7" font-family='"Liberation Sans", sans-serif' font-size="28" fill="#3333b2" textLength="111.7" lengthAdjust="spacingAndGlyphs" stroke="#fff" stroke-width="0.7">Figure 3.</text>
<text x="459.1" y="2709.7" font-family='"Liberation Sans", sans-serif' font-size="28" textLength="850.5" lengthAdjust="spacingAndGlyphs" stroke="#fff" stroke-width="0.7">Autoencoders do not identify the latents, choose arbitrary invertible</text>
<text x="1316.4" y="2709.7" font-family='"Liberation Serif", serif' font-size="30" font-style="italic" stroke="#fff" stroke-width="0.3">a</text>
<text x="1331.5" y="2709.7" font-family='"Liberation Sans", sans-serif' font-size="28" stroke="#fff" stroke-width="0.7">.</text>
<text x="1705.5" y="642.5" font-family='"Liberation Serif", serif' font-size="42" font-weight="bold" textLength="454.9" lengthAdjust="spacingAndGlyphs">Data generation process:</text>
<text x="1744.4" y="725.6" font-family='"Liberation Serif", serif' font-size="52" font-style="italic">z</text>
<path d="M1777.5,715.0C1782.9,707.0 1788.3,709.0 1791.0,712.0S1800.5,716.0 1804.5,708.5" stroke="#000" stroke-width="2.6" fill="none" stroke-linecap="round"/>
<text x="1818.8" y="725.6" font-family='"Liberation Sans", sans-serif' font-size="44" textLength="96.1" lengthAdjust="spacingAndGlyphs">SCM</text>
<text x="1913.5" y="725.6" font-family='"Liberation Serif", serif' font-size="52">(</text>
<text x="1931.1" y="723.6" font-family='"Liberation Serif", serif' font-size="47" font-style="italic">f</text>
<text x="1947.6" y="734.7" font-family='"Liberation Serif", serif' font-size="33">1</text>
<text x="1962.3" y="725.6" font-family='"Liberation Serif", serif' font-size="52">,</text>
<circle cx="1986.5" cy="722" r="3"/><circle cx="2007.5" cy="722" r="3"/>
<text x="2015.6" y="723.6" font-family='"Liberation Serif", serif' font-size="47" font-style="italic">f</text>
<text x="2030.4" y="734.7" font-family='"Liberation Serif", serif' font-size="34" font-style="italic">d</text>
<text x="2047.3" y="725.6" font-family='"Liberation Serif", serif' font-size="52">)</text>
<text x="1739.1" y="803.3" font-family='"Liberation Serif", serif' font-size="52" font-style="italic">x</text>
<path d="M1778.1,791.3H1812.7M1789.1,783.3L1777.6,791.3L1789.1,799.3" stroke="#000" stroke-width="2.8" fill="none" stroke-linejoin="miter"/>
<text x="1828.9" y="803.3" font-family='"Liberation Serif", serif' font-size="52" textLength="70.9" lengthAdjust="spacingAndGlyphs"><tspan font-style="italic">g</tspan>(<tspan font-style="italic">z</tspan>)</text>
<circle cx="1689.8" cy="967.2" r="5.3"/>
<text x="1700.3" y="979.0" font-family='"Liberation Serif", serif' font-size="39.5" textLength="706.3" lengthAdjust="spacingAndGlyphs">Level 3. Counterfactual data<tspan>:</tspan> [Brehmer et al.]</text>
<circle cx="1689.8" cy="1094.5" r="5.3"/>
<text x="1700.7" y="1106.3" font-family='"Liberation Serif", serif' font-size="39.5" font-weight="bold" textLength="646.3" lengthAdjust="spacingAndGlyphs">Level 2. Interventional data<tspan>:</tspan> This work</text>
<circle cx="1689.8" cy="1222.5" r="5.3"/>
<text x="1700.3" y="1234.3" font-family='"Liberation Serif", serif' font-size="39.5" textLength="755.1" lengthAdjust="spacingAndGlyphs">Level 1. Observational data<tspan>:</tspan> [Khemakhem et al.]</text>
<rect x="1689.5" y="1589.6" width="9" height="9" fill="#3333b2"/>
<text x="1715.4" y="1607.6" font-family='"Liberation Serif", serif' font-size="37" font-style="italic" stroke="#fff" stroke-width="0.4">z</text>
<path d="M1743.9,1599.0H1774.0" stroke="#000" stroke-width="1.6" fill="none"/><path d="M1751.9,1592.0Q1748.9,1597.5 1742.9,1599.0Q1748.9,1600.5 1751.9,1606.0" stroke="#000" stroke-width="1.6" fill="none" stroke-linecap="round"/>
<text x="1785.1" y="1607.6" font-family='"Liberation Serif", serif' font-size="37" textLength="22.1" lengthAdjust="spacingAndGlyphs" stroke="#fff" stroke-width="1.1">P</text>
<path d="M1794.0,1584.4V1606.4" stroke="#000" stroke-width="1.2"/>
<text x="1809.1" y="1614.9" font-family='"Liberation Serif", serif' font-size="27" font-style="italic" stroke="#fff" stroke-width="0.4">Z</text>
<text x="1828.6" y="1607.6" font-family='"Liberation Serif", serif' font-size="37" stroke="#fff" stroke-width="0.4">,</text>
<text x="1856.4" y="1607.6" font-family='"Liberation Serif", serif' font-size="37" font-style="italic" stroke="#fff" stroke-width="0.4">x</text>
<path d="M1886.2,1599.0H1916.0" stroke="#000" stroke-width="1.6" fill="none"/><path d="M1894.2,1592.0Q1891.2,1597.5 1885.2,1599.0Q1891.2,1600.5 1894.2,1606.0" stroke="#000" stroke-width="1.6" fill="none" stroke-linecap="round"/>
<text x="1928.9" y="1607.6" font-family='"Liberation Serif", serif' font-size="37" textLength="58.3" lengthAdjust="spacingAndGlyphs" stroke="#fff" stroke-width="0.4"><tspan font-style="italic">g</tspan>(<tspan font-style="italic">z</tspan>)</text>
<rect x="1689.5" y="1658.0" width="9" height="9" fill="#3333b2"/>
<text x="1712.9" y="1675.0" font-family='"Liberation Sans", sans-serif' font-size="34" textLength="81.6" lengthAdjust="spacingAndGlyphs">Goal:</text>
<text x="1803.3" y="1675.0" font-family='"Liberation Sans", sans-serif' font-size="34" textLength="89.3" lengthAdjust="spacingAndGlyphs" stroke="#fff" stroke-width="0.85">Invert</text>
<text x="1904.9" y="1675.0" font-family='"Liberation Serif", serif' font-size="37" font-style="italic" stroke="#fff" stroke-width="0.4">z</text>
<text x="1927.8" y="1675.0" font-family='"Liberation Sans", sans-serif' font-size="34" textLength="799.5" lengthAdjust="spacingAndGlyphs" stroke="#fff" stroke-width="0.85">up to errors (permutation, scaling) using observations</text>
<text x="2738.5" y="1675.0" font-family='"Liberation Serif", serif' font-size="37" font-style="italic" stroke="#fff" stroke-width="0.4">x</text>
<text x="2765.7" y="1675.0" font-family='"Liberation Sans", sans-serif' font-size="34" textLength="62.7" lengthAdjust="spacingAndGlyphs" stroke="#fff" stroke-width="0.85">only</text>
<rect x="1689.5" y="1727.0" width="9" height="9" fill="#3333b2"/>
<text x="1711.5" y="1744.0" font-family='"Liberation Sans", sans-serif' font-size="34" textLength="1271.7" lengthAdjust="spacingAndGlyphs" stroke="#fff" stroke-width="0.85">Impossible the goal in the absence of any assumptions on the DGP [Hyvarinen et al.]</text>
<rect x="1689.5" y="1794.9" width="9" height="9" fill="#3333b2"/>
<text x="1713.8" y="1811.9" font-family='"Liberation Sans", sans-serif' font-size="34" textLength="159.7" lengthAdjust="spacingAndGlyphs">This work:</text>
<text x="1884.6" y="1811.9" font-family='"Liberation Serif", serif' font-size="37" font-style="italic" stroke="#fff" stroke-width="0.4">g</text>
<text x="1910.4" y="1811.9" font-family='"Liberation Sans", sans-serif' font-size="34" textLength="698.5" lengthAdjust="spacingAndGlyphs" stroke="#fff" stroke-width="0.85">is polynomial and access to interventional data</text>
<rect x="1689.5" y="2000.7" width="9" height="9" fill="#3333b2"/>
<text x="1711.7" y="2017.7" font-family='"Liberation Sans", sans-serif' font-size="34" textLength="293.2" lengthAdjust="spacingAndGlyphs">Learning objective:</text>
<text x="2240.4" y="2061.0" font-family='"Liberation Serif", serif' font-size="37" textLength="52.9" lengthAdjust="spacingAndGlyphs" stroke="#fff" stroke-width="0.4">min</text>
<text x="2248.0" y="2087.7" font-family='"Liberation Serif", serif' font-size="26" textLength="39.6" lengthAdjust="spacingAndGlyphs" stroke="#fff" stroke-width="0.4"><tspan font-style="italic">f</tspan>,<tspan font-style="italic">h</tspan></text>
<text x="2298.5" y="2061.0" font-family='"Liberation Serif", serif' font-size="37" textLength="25.6" lengthAdjust="spacingAndGlyphs" stroke="#fff" stroke-width="1.1">E</text>
<path d="M2307.6,2037.8V2059.8" stroke="#000" stroke-width="1.2"/>
<text x="2322.7" y="2061.0" font-family='"Liberation Serif", serif' font-size="37" stroke="#fff" stroke-width="0.4">[</text>
<path d="M2337.3,2036.5V2068.5M2344.2,2036.5V2068.5" stroke="#000" stroke-width="1.5"/>
<text x="2350.8" y="2061.0" font-family='"Liberation Serif", serif' font-size="37" font-style="italic" stroke="#fff" stroke-width="0.4">h</text>
<circle cx="2385.0" cy="2052.7" r="5" fill="none" stroke="#000" stroke-width="1.5"/>
<text x="2405.6" y="2061.0" font-family='"Liberation Serif", serif' font-size="37" font-style="italic" stroke="#fff" stroke-width="0.4">f</text>
<text x="2422.4" y="2061.0" font-family='"Liberation Serif", serif' font-size="37" textLength="54.2" lengthAdjust="spacingAndGlyphs" stroke="#fff" stroke-width="0.4">(<tspan font-style="italic">X</tspan>)</text>
<path d="M2489.0,2052.7H2511.2" stroke="#000" stroke-width="1.5"/>
<text x="2525.2" y="2061.0" font-family='"Liberation Serif", serif' font-size="37" font-style="italic" stroke="#fff" stroke-width="0.4">X</text>
<path d="M2556.9,2036.5V2068.5M2563.8,2036.5V2068.5" stroke="#000" stroke-width="1.5"/>
<text x="2568.7" y="2044.0" font-family='"Liberation Serif", serif' font-size="26" stroke="#fff" stroke-width="0.4">2</text>
<text x="2584.0" y="2061.0" font-family='"Liberation Serif", serif' font-size="37" stroke="#fff" stroke-width="0.4">]</text>
<rect x="1689.5" y="2183.7" width="9" height="9" fill="#3333b2"/>
<text x="1713.8" y="2200.7" font-family='"Liberation Sans", sans-serif' font-size="34" textLength="147.4" lengthAdjust="spacingAndGlyphs">Theorem.</text>
<text x="1869.9" y="2200.7" font-family='"Liberation Sans", sans-serif' font-size="34" textLength="326.2" lengthAdjust="spacingAndGlyphs" stroke="#fff" stroke-width="0.85">If generative function</text>
<text x="2204.3" y="2200.7" font-family='"Liberation Serif", serif' font-size="37" font-style="italic" stroke="#fff" stroke-width="0.4">g</text>
<text x="2228.7" y="2200.7" font-family='"Liberation Sans", sans-serif' font-size="34" textLength="537.6" lengthAdjust="spacingAndGlyphs" stroke="#fff" stroke-width="0.85">is injective and the learned decoder</text>
<text x="2776.2" y="2200.7" font-family='"Liberation Serif", serif' font-size="37" font-style="italic" stroke="#fff" stroke-width="0.4">h</text>
<text x="2804.3" y="2200.7" font-family='"Liberation Sans", sans-serif' font-size="34" textLength="272.7" lengthAdjust="spacingAndGlyphs" stroke="#fff" stroke-width="0.85">are polynomials of</text>
<text x="1713.2" y="2252.5" font-family='"Liberation Sans", sans-serif' font-size="34" textLength="104.0" lengthAdjust="spacingAndGlyphs" stroke="#fff" stroke-width="0.85">degree</text>
<text x="1827.3" y="2252.5" font-family='"Liberation Serif", serif' font-size="37" font-style="italic" stroke="#fff" stroke-width="0.4">p</text>
<text x="1851.8" y="2252.5" font-family='"Liberation Sans", sans-serif' font-size="34" textLength="341.0" lengthAdjust="spacingAndGlyphs" stroke="#fff" stroke-width="0.85">and interior of support</text>
<text x="2202.9" y="2252.5" font-family='"Liberation Serif", serif' font-size="37" font-style="italic" stroke="#fff" stroke-width="0.4">Z</text>
<text x="2235.1" y="2252.5" font-family='"Liberation Sans", sans-serif' font-size="34" textLength="285.5" lengthAdjust="spacingAndGlyphs" stroke="#fff" stroke-width="0.85">is non-empty, then</text>
<text x="2530.8" y="2252.5" font-family='"Liberation Serif", serif' font-size="37" font-style="italic" stroke="#fff" stroke-width="0.4">z</text>
<path d="M2533.5,2230.5L2539.0,2225.0L2544.5,2230.5" stroke="#000" stroke-width="1.4" fill="none"/>
<text x="2556.3" y="2232.0" font-family='"Liberation Serif", serif' font-size="25" textLength="35.7" lengthAdjust="spacingAndGlyphs" stroke="#fff" stroke-width="0.4">def</text>
<path d="M2562.9,2241.4H2585.9M2562.9,2248.2H2585.9" stroke="#000" stroke-width="1.5"/>
<text x="2603.9" y="2252.5" font-family='"Liberation Serif", serif' font-size="37" textLength="62.4" lengthAdjust="spacingAndGlyphs" stroke="#fff" stroke-width="0.4"><tspan font-style="italic">f</tspan>(<tspan font-style="italic">x</tspan>)</text>
<path d="M2678.1,2240.8H2699.6M2678.1,2247.6H2699.6" stroke="#000" stroke-width="1.5"/>
<text x="2715.5" y="2252.5" font-family='"Liberation Serif", serif' font-size="37" textLength="36.9" lengthAdjust="spacingAndGlyphs" stroke="#fff" stroke-width="0.4"><tspan font-style="italic">Az</tspan></text>
<path d="M2764.2,2244.2H2785.7M2774.9,2233.4V2254.9" stroke="#000" stroke-width="1.5"/>
<text x="2796.0" y="2252.5" font-family='"Liberation Serif", serif' font-size="37" textLength="23.2" lengthAdjust="spacingAndGlyphs" stroke="#fff" stroke-width="0.4"><tspan font-style="italic">c</tspan>.</text>
<rect x="1689.5" y="2303.8" width="9" height="9" fill="#3333b2"/>
<text x="1713.1" y="2320.8" font-family='"Liberation Sans", sans-serif' font-size="34" textLength="182.1" lengthAdjust="spacingAndGlyphs">Significance</text>
<text x="1903.1" y="2320.8" font-family='"Liberation Sans", sans-serif' font-size="34" textLength="917.9" lengthAdjust="spacingAndGlyphs" stroke="#fff" stroke-width="0.85">From observational data alone affine identification is possible</text>
<rect x="3249.5" y="550.5" width="9" height="9" fill="#3333b2"/>
<text x="3889.0" y="614.4" font-family='"Liberation Serif", serif' font-size="37" font-style="italic" stroke="#fff" stroke-width="0.4">z</text>
<text x="3903.9" y="620.5" font-family='"Liberation Serif", serif' font-size="26" font-style="italic" stroke="#fff" stroke-width="0.4">i</text>
<path d="M3926.6,605.8H3956.0" stroke="#000" stroke-width="1.6" fill="none"/><path d="M3934.6,598.8Q3931.6,604.3 3925.6,605.8Q3931.6,607.3 3934.6,612.8" stroke="#000" stroke-width="1.6" fill="none" stroke-linecap="round"/>
<text x="3970.5" y="614.4" font-family='"Liberation Serif", serif' font-size="37" font-style="italic" stroke="#fff" stroke-width="0.4">z</text>
<path d="M3992.4,588.5V601M3987,591.6L3997.8,597.9M3987,597.9L3997.8,591.6" stroke="#000" stroke-width="1.4"/>
<text x="3889.0" y="661.7" font-family='"Liberation Serif", serif' font-size="37" font-style="italic" stroke="#fff" stroke-width="0.4">z</text>
<path d="M3905.4,659.2H3921.0" stroke="#000" stroke-width="1.3"/>
<text x="3925.6" y="666.6" font-family='"Liberation Serif", serif' font-size="26" font-style="italic" stroke="#fff" stroke-width="0.4">i</text>
<path d="M3948.9,653.1H3979.0" stroke="#000" stroke-width="1.6" fill="none"/><path d="M3956.9,646.1Q3953.9,651.6 3947.9,653.1Q3953.9,654.6 3956.9,660.1" stroke="#000" stroke-width="1.6" fill="none" stroke-linecap="round"/>
<text x="3989.9" y="661.7" font-family='"Liberation Serif", serif' font-size="37" font-style="italic" stroke="#fff" stroke-width="0.4">Q</text>
<text x="4020.9" y="669.8" font-family='"Liberation Serif", serif' font-size="27" font-style="italic" stroke="#fff" stroke-width="0.4">Z</text>
<path d="M4040.0,669.5H4053.0" stroke="#000" stroke-width="1.2"/>
<text x="4057.0" y="673.9" font-family='"Liberation Serif", serif' font-size="20" font-style="italic" stroke="#fff" stroke-width="0.4">i</text>
<text x="3888.9" y="711.5" font-family='"Liberation Serif", serif' font-size="37" font-style="italic" stroke="#fff" stroke-width="0.4">x</text>
<path d="M3919.7,702.9H3949.0" stroke="#000" stroke-width="1.6" fill="none"/><path d="M3927.7,695.9Q3924.7,701.4 3918.7,702.9Q3924.7,704.4 3927.7,709.9" stroke="#000" stroke-width="1.6" fill="none" stroke-linecap="round"/>
<text x="3962.0" y="711.5" font-family='"Liberation Serif", serif' font-size="37" textLength="58.3" lengthAdjust="spacingAndGlyphs" stroke="#fff" stroke-width="0.4"><tspan font-style="italic">g</tspan>(<tspan font-style="italic">z</tspan>)</text>
<rect x="3249.5" y="808.5" width="9" height="9" fill="#3333b2"/>
<text x="3271.7" y="825.5" font-family='"Liberation Sans", sans-serif' font-size="34" textLength="293.2" lengthAdjust="spacingAndGlyphs">Learning objective:</text>
<text x="3783.4" y="902.3" font-family='"Liberation Serif", serif' font-size="37" textLength="52.9" lengthAdjust="spacingAndGlyphs" stroke="#fff" stroke-width="0.4">min</text>
<text x="3791.0" y="929.0" font-family='"Liberation Serif", serif' font-size="26" textLength="39.6" lengthAdjust="spacingAndGlyphs" stroke="#fff" stroke-width="0.4"><tspan font-style="italic">f</tspan>,<tspan font-style="italic">h</tspan></text>
<text x="3841.5" y="902.3" font-family='"Liberation Serif", serif' font-size="37" textLength="25.6" lengthAdjust="spacingAndGlyphs" stroke="#fff" stroke-width="1.1">E</text>
<path d="M3850.6,879.1V901.1" stroke="#000" stroke-width="1.2"/>
<text x="3865.7" y="902.3" font-family='"Liberation Serif", serif' font-size="37" stroke="#fff" stroke-width="0.4">[</text>
<path d="M3880.3,877.8V909.8M3887.2,877.8V909.8" stroke="#000" stroke-width="1.5"/>
<text x="3893.8" y="902.3" font-family='"Liberation Serif", serif' font-size="37" font-style="italic" stroke="#fff" stroke-width="0.4">h</text>
<circle cx="3928.0" cy="894.0" r="5" fill="none" stroke="#000" stroke-width="1.5"/>
<text x="3948.6" y="902.3" font-family='"Liberation Serif", serif' font-size="37" font-style="italic" stroke="#fff" stroke-width="0.4">f</text>
<text x="3965.4" y="902.3" font-family='"Liberation Serif", serif' font-size="37" textLength="54.2" lengthAdjust="spacingAndGlyphs" stroke="#fff" stroke-width="0.4">(<tspan font-style="italic">X</tspan>)</text>
<path d="M4032.0,894.0H4054.2" stroke="#000" stroke-width="1.5"/>
<text x="4068.2" y="902.3" font-family='"Liberation Serif", serif' font-size="37" font-style="italic" stroke="#fff" stroke-width="0.4">X</text>
<path d="M4099.9,877.8V909.8M4106.8,877.8V909.8" stroke="#000" stroke-width="1.5"/>
<text x="4111.7" y="885.3" font-family='"Liberation Serif", serif' font-size="26" stroke="#fff" stroke-width="0.4">2</text>
<text x="4127.0" y="902.3" font-family='"Liberation Serif", serif' font-size="37" stroke="#fff" stroke-width="0.4">]</text>
<text x="3777.1" y="978.4" font-family='"Liberation Sans", sans-serif' font-size="34" textLength="44.5" lengthAdjust="spacingAndGlyphs" stroke="#fff" stroke-width="0.85">s.t.</text>
<text x="3842.5" y="978.4" font-family='"Liberation Serif", serif' font-size="37" font-style="italic" stroke="#fff" stroke-width="0.4">f</text>
<text x="3860.1" y="984.5" font-family='"Liberation Serif", serif' font-size="26" font-style="italic" stroke="#fff" stroke-width="0.4">i</text>
<text x="3869.2" y="978.4" font-family='"Liberation Serif", serif' font-size="37" textLength="52.2" lengthAdjust="spacingAndGlyphs" stroke="#fff" stroke-width="0.4">(<tspan font-style="italic">X</tspan>)</text>
<path d="M3933.7,966.7H3956.0M3933.7,973.5H3956.0" stroke="#000" stroke-width="1.5"/>
<text x="3969.3" y="978.4" font-family='"Liberation Serif", serif' font-size="37" font-style="italic" stroke="#fff" stroke-width="0.4">z</text>
<path d="M3991.5,948V975M3986.3,956H3996.7" stroke="#000" stroke-width="1.6"/>
<text x="3999.1" y="978.4" font-family='"Liberation Serif", serif' font-size="37" stroke="#fff" stroke-width="0.4">,</text>
<path d="M4012.6,953.5L4022.6,978.4L4032.6,953.5M4016.6,963.5H4028.6" stroke="#000" stroke-width="1.5" fill="none"/>
<text x="4034.7" y="978.4" font-family='"Liberation Serif", serif' font-size="37" font-style="italic" stroke="#fff" stroke-width="0.4">x</text>
<path d="M4083.3,960H4074.2A9.3,9.3 0 0 0 4074.2,978.6H4083.3M4065.2,969.3H4083.3" stroke="#000" stroke-width="1.5" fill="none"/>
<text x="4100.7" y="978.4" font-family='"Liberation Serif", serif' font-size="37" font-style="italic">X</text>
<path d="M4134.6,951.5V964M4129.2,954.6L4140,960.9M4129.2,960.9L4140,954.6" stroke="#000" stroke-width="1.4"/>
<rect x="3249.5" y="1117.2" width="9" height="9" fill="#3333b2"/>
<text x="3273.8" y="1134.2" font-family='"Liberation Sans", sans-serif' font-size="34" textLength="137.2" lengthAdjust="spacingAndGlyphs">Theorem</text>
<text x="3419.0" y="1134.2" font-family='"Liberation Sans", sans-serif' font-size="34" textLength="324.9" lengthAdjust="spacingAndGlyphs" stroke="#fff" stroke-width="0.85">If generative function</text>
<text x="3753.2" y="1134.2" font-family='"Liberation Serif", serif' font-size="37" font-style="italic" stroke="#fff" stroke-width="0.4">g</text>
<text x="3777.7" y="1134.2" font-family='"Liberation Sans", sans-serif' font-size="34" textLength="536.9" lengthAdjust="spacingAndGlyphs" stroke="#fff" stroke-width="0.85">is injective and the learned decoder</text>
<text x="4324.3" y="1134.2" font-family='"Liberation Serif", serif' font-size="37" font-style="italic" stroke="#fff" stroke-width="0.4">h</text>
<text x="4352.5" y="1134.2" font-family='"Liberation Sans", sans-serif' font-size="34" textLength="274.8" lengthAdjust="spacingAndGlyphs" stroke="#fff" stroke-width="0.85">are polynomials of</text>
<text x="3273.2" y="1176.3" font-family='"Liberation Sans", sans-serif' font-size="34" textLength="104.0" lengthAdjust="spacingAndGlyphs" stroke="#fff" stroke-width="0.85">degree</text>
<text x="3386.9" y="1176.3" font-family='"Liberation Serif", serif' font-size="37" font-style="italic" stroke="#fff" stroke-width="0.4">p</text>
<text x="3411.8" y="1176.3" font-family='"Liberation Sans", sans-serif' font-size="34" textLength="340.1" lengthAdjust="spacingAndGlyphs" stroke="#fff" stroke-width="0.85">and interior of support</text>
<text x="3763.3" y="1176.3" font-family='"Liberation Serif", serif' font-size="37" font-style="italic">Z</text>
<text x="3789.1" y="1176.3" font-family='"Liberation Serif", serif' font-size="37" stroke="#fff" stroke-width="0.4">,</text>
<text x="3807.8" y="1176.3" font-family='"Liberation Serif", serif' font-size="37" font-style="italic">Z</text>
<text x="3833.4" y="1162.3" font-family='"Liberation Serif", serif' font-size="26" font-style="italic" stroke="#fff" stroke-width="0.4">i</text>
<text x="3851.7" y="1176.3" font-family='"Liberation Sans", sans-serif' font-size="34" textLength="284.3" lengthAdjust="spacingAndGlyphs" stroke="#fff" stroke-width="0.85">is non-empty, then</text>
<text x="3914.3" y="1229.8" font-family='"Liberation Serif", serif' font-size="37" font-style="italic" stroke="#fff" stroke-width="0.4">z</text>
<path d="M3917.0,1207.8L3922.5,1202.3L3928.0,1207.8" stroke="#000" stroke-width="1.4" fill="none"/>
<text x="3929.6" y="1235.8" font-family='"Liberation Serif", serif' font-size="26" font-style="italic" stroke="#fff" stroke-width="0.4">i</text>
<path d="M3947.5,1218.1H3971.0M3947.5,1224.9H3971.0" stroke="#000" stroke-width="1.5"/>
<text x="3983.0" y="1229.8" font-family='"Liberation Serif", serif' font-size="37" textLength="31.0" lengthAdjust="spacingAndGlyphs" stroke="#fff" stroke-width="0.4"><tspan font-style="italic">az</tspan></text>
<text x="4014.6" y="1235.8" font-family='"Liberation Serif", serif' font-size="26" font-style="italic" stroke="#fff" stroke-width="0.4">i</text>
<path d="M4036.0,1221.5H4057.5M4046.8,1210.8V1232.2" stroke="#000" stroke-width="1.5"/>
<text x="4067.3" y="1229.8" font-family='"Liberation Serif", serif' font-size="37" textLength="24.6" lengthAdjust="spacingAndGlyphs" stroke="#fff" stroke-width="0.4"><tspan font-style="italic">b</tspan>,</text>
<text x="3863.8" y="1275.7" font-family='"Liberation Serif", serif' font-size="37" font-style="italic" stroke="#fff" stroke-width="0.4">z</text>
<path d="M3866.5,1253.7L3872.0,1248.2L3877.5,1253.7" stroke="#000" stroke-width="1.4" fill="none"/>
<path d="M3880.5,1273.2H3896.0" stroke="#000" stroke-width="1.3"/>
<text x="3900.1" y="1280.7" font-family='"Liberation Serif", serif' font-size="26" font-style="italic" stroke="#fff" stroke-width="0.4">i</text>
<path d="M3919.0,1264.0H3942.0M3919.0,1270.8H3942.0" stroke="#000" stroke-width="1.5"/>
<text x="3956.5" y="1275.7" font-family='"Liberation Serif", serif' font-size="37" textLength="40.1" lengthAdjust="spacingAndGlyphs" stroke="#fff" stroke-width="0.4"><tspan font-style="italic">Ez</tspan></text>
<path d="M3998.0,1273.2H4013.5" stroke="#000" stroke-width="1.3"/>
<text x="4017.6" y="1280.7" font-family='"Liberation Serif", serif' font-size="26" font-style="italic" stroke="#fff" stroke-width="0.4">i</text>
<path d="M4036.5,1267.4H4058.0M4047.2,1256.7V1278.2" stroke="#000" stroke-width="1.5"/>
<text x="4071.5" y="1275.7" font-family='"Liberation Serif", serif' font-size="37" font-style="italic" stroke="#fff" stroke-width="0.4">f</text>
<rect x="3249.5" y="1398.9" width="9" height="9" fill="#3333b2"/>
<text x="3273.1" y="1415.9" font-family='"Liberation Sans", sans-serif' font-size="34" textLength="183.7" lengthAdjust="spacingAndGlyphs">Signifcance:</text>
<text x="3467.4" y="1415.9" font-family='"Liberation Sans", sans-serif' font-size="34" textLength="864.4" lengthAdjust="spacingAndGlyphs" stroke="#fff" stroke-width="0.85">All intervened variables are (almost) completely identified.</text>
<rect x="3249.5" y="1605.3" width="9" height="9" fill="#3333b2"/>
<text x="3273.0" y="1622.3" font-family='"Liberation Sans", sans-serif' font-size="34" textLength="267.6" lengthAdjust="spacingAndGlyphs" stroke="#fff" stroke-width="0.85">Soft interventions</text>
<rect x="3249.5" y="1691.5" width="9" height="9" fill="#3333b2"/>
<text x="3274.5" y="1708.5" font-family='"Liberation Sans", sans-serif' font-size="34" textLength="543.1" lengthAdjust="spacingAndGlyphs" stroke="#fff" stroke-width="0.85">Approximations beyond polynomials</text>
<rect x="3249.5" y="1777.6" width="9" height="9" fill="#3333b2"/>
<text x="3271.4" y="1794.6" font-family='"Liberation Sans", sans-serif' font-size="34" textLength="1128.0" lengthAdjust="spacingAndGlyphs" stroke="#fff" stroke-width="0.85">Implications of interventional representation identification on real datasets.</text>
<text x="3827.2" y="1708.5" font-family='"Liberation Serif", serif' font-size="37" font-style="italic" stroke="#fff" stroke-width="0.4">g</text>
<rect x="3249.5" y="1982.9" width="9" height="9" fill="#3333b2"/>
<text x="3272.3" y="1999.9" font-family='"Liberation Sans", sans-serif' font-size="34" textLength="1341.8" lengthAdjust="spacingAndGlyphs" stroke="#fff" stroke-width="0.85">Brehmer, Johann, Pim De Haan, Phillip Lippe, and Taco Cohen.  ”Weakly supervised causal</text>
<text x="3272.7" y="2041.9" font-family='"Liberation Sans", sans-serif' font-size="34" textLength="976.7" lengthAdjust="spacingAndGlyphs" stroke="#fff" stroke-width="0.85">representation learning.” arXiv preprint arXiv:2203.16437 (2022).</text>
<rect x="3249.5" y="2075.7" width="9" height="9" fill="#3333b2"/>
<text x="3272.3" y="2092.7" font-family='"Liberation Sans", sans-serif' font-size="34" textLength="1281.4" lengthAdjust="spacingAndGlyphs" stroke="#fff" stroke-width="0.85">Khemakhem, Ilyes, Diederik Kingma, Ricardo Monti, and Aapo Hyvarinen.  ”Variational</text>
<text x="3273.6" y="2134.8" font-family='"Liberation Sans", sans-serif' font-size="34" textLength="1406.8" lengthAdjust="spacingAndGlyphs" stroke="#fff" stroke-width="0.85">autoencoders and nonlinear ica:  A unifying framework.” In International Conference on Artificial</text>
<text x="3271.9" y="2177.3" font-family='"Liberation Sans", sans-serif' font-size="34" textLength="851.3" lengthAdjust="spacingAndGlyphs" stroke="#fff" stroke-width="0.85">Intelligence and Statistics, pp.  2207-2217.  PMLR, 2020.</text>
<rect x="3249.5" y="2211.6" width="9" height="9" fill="#3333b2"/>
<text x="3272.3" y="2228.6" font-family='"Liberation Sans", sans-serif' font-size="34" textLength="869.6" lengthAdjust="spacingAndGlyphs" stroke="#fff" stroke-width="0.85">Pearl, Judea.  Causality.  Cambridge university press, 2009.</text>
<rect x="3249.5" y="2262.7" width="9" height="9" fill="#3333b2"/>
<text x="3272.3" y="2279.7" font-family='"Liberation Sans", sans-serif' font-size="34" textLength="821.5" lengthAdjust="spacingAndGlyphs" stroke="#fff" stroke-width="0.85">Pearl, Judea, and Dana Mackenzie.  ”The Book of Why.”</text>
<rect x="3249.5" y="2312.8" width="9" height="9" fill="#3333b2"/>
<text x="3272.3" y="2329.8" font-family='"Liberation Sans", sans-serif' font-size="34" textLength="1407.4" lengthAdjust="spacingAndGlyphs" stroke="#fff" stroke-width="0.85">Hyvärinen, Aapo, and Petteri Pajunen.  ”Nonlinear independent component analysis:  Existence</text>
<text x="3273.6" y="2371.9" font-family='"Liberation Sans", sans-serif' font-size="34" textLength="1037.3" lengthAdjust="spacingAndGlyphs" stroke="#fff" stroke-width="0.85">and uniqueness results.” Neural networks 12, no.  3 (1999):  429-439.</text>
<g stroke="#111" fill="none" stroke-linecap="round" stroke-linejoin="round" stroke-width="1.5">
<path d="M2488.1,600.0 L2487.7,657.4 L2488.9,714.7 L2487.5,772.1 L2488.6,829.4 L2488.2,886.8 L2487.4,944.1 L2488.5,1001.5 L2487.4,1058.9 L2488.3,1116.2 L2487.5,1173.6 L2487.5,1230.9 L2488.3,1288.3 L2489.3,1345.6 L2487.6,1403.0" stroke-width="1.8"/><path d="M2510.3,600.0 L2511.3,657.4 L2512.1,714.7 L2511.2,772.1 L2510.8,829.4 L2512.1,886.8 L2509.9,944.1 L2511.9,1001.5 L2510.5,1058.9 L2510.1,1116.2 L2510.1,1173.6 L2510.5,1230.9 L2511.8,1288.3 L2510.2,1345.6 L2511.2,1403.0" stroke-width="1.8"/><path d="M2488.5,600.0Q2499.8,594.0 2511.0,600.0" stroke-width="1.6"/><path d="M2488.5,1403.0Q2499.8,1410.0 2511.0,1403.0" stroke-width="1.6"/><path d="M2502.2,608.7q-1.3,10.6 -0.9,21.2M2494.6,607.0q-0.6,15.2 0.2,30.4M2498.9,612.1q0.6,9.5 -0.5,19.0M2501.1,613.3q0.7,12.9 -0.4,25.8M2508.2,606.9q0.8,6.8 -0.7,13.5M2499.6,625.4q0.8,5.6 0.1,11.2M2506.3,625.7q0.3,9.7 0.2,19.4M2499.0,629.2q-0.1,17.6 0.3,35.2M2492.1,625.1q1.5,15.5 0.6,31.0M2496.0,625.4q-1.4,10.8 -0.1,21.6M2493.9,631.8q0.8,6.8 -0.7,13.5M2495.3,643.2q-1.3,10.9 -0.1,21.7M2500.6,642.5q1.1,18.3 -0.4,36.5M2498.3,643.4q1.4,10.4 -0.7,20.8M2494.1,634.3q-0.0,8.5 0.2,17.0M2495.6,651.9q-0.4,5.1 0.1,10.1M2507.7,653.2q0.4,15.4 0.4,30.7M2491.9,656.9q1.1,18.5 0.6,37.0M2497.9,647.4q0.4,11.0 -0.9,22.0M2492.2,648.3q-0.5,8.1 -0.9,16.3M2491.0,662.4q-0.4,7.3 -0.9,14.5M2506.3,663.1q-0.7,14.2 -0.3,28.4M2497.4,672.9q1.5,6.8 -0.1,13.7M2499.5,662.4q-0.5,6.3 -0.5,12.6M2505.5,661.3q1.4,7.4 0.1,14.8M2493.6,676.4q0.1,13.1 1.0,26.3M2506.1,679.7q-0.4,15.4 -0.7,30.9M2504.5,686.9q-0.5,13.0 -0.6,26.0M2505.2,687.9q0.9,19.8 0.6,39.5M2503.9,683.2q-0.4,8.4 -0.9,16.8M2491.5,694.6q0.6,9.2 0.9,18.4M2498.8,704.8q1.4,19.1 -0.3,38.1M2494.9,693.8q-0.9,8.4 0.2,16.8M2506.8,697.7q0.5,17.6 0.6,35.2M2492.5,703.7q0.8,14.9 0.5,29.8M2499.4,717.0q-0.5,7.7 0.6,15.4M2508.0,711.6q1.3,10.9 0.4,21.9M2494.0,708.1q1.2,6.9 0.6,13.8M2493.6,719.7q0.5,17.4 -0.3,34.8M2500.6,706.2q1.4,7.0 0.3,13.9M2500.2,727.1q1.1,19.0 0.7,38.0M2494.7,725.1q-0.8,8.8 0.2,17.6M2495.5,722.8q1.2,11.3 -0.3,22.6M2499.0,733.7q-0.2,13.8 0.8,27.5M2499.8,728.3q-1.4,13.0 -0.1,26.0M2494.2,747.2q-1.0,5.1 -0.1,10.1M2503.7,740.6q0.1,13.3 0.1,26.7M2504.7,743.8q-0.8,6.6 -0.4,13.2M2504.5,743.9q0.8,12.6 0.8,25.2M2498.8,743.1q0.0,14.2 0.4,28.4M2498.9,757.7q1.3,13.0 0.4,26.0M2506.3,754.6q0.2,19.1 0.9,38.3M2505.7,752.7q-0.2,7.1 -0.9,14.1M2495.2,760.4q0.9,6.1 0.8,12.2M2493.7,760.2q-1.1,15.7 0.8,31.5M2507.9,779.3q-0.3,8.3 -0.0,16.6M2508.3,768.3q-0.2,17.5 0.0,35.0M2496.9,770.5q0.7,7.9 -1.0,15.9M2500.7,766.3q-0.5,11.6 0.2,23.2M2500.0,779.8q0.9,6.0 0.9,11.9M2492.8,781.6q0.8,9.0 -0.5,18.0M2493.3,793.8q1.0,11.3 -0.5,22.7M2493.6,789.0q0.6,18.8 -0.8,37.6M2492.0,787.0q-1.3,15.3 0.9,30.6M2502.1,782.2q1.1,17.0 -0.9,34.0M2506.1,800.7q0.2,11.8 0.9,23.6M2495.7,803.4q-0.8,6.9 -0.8,13.9M2493.8,798.8q-0.6,5.8 -0.4,11.5M2504.3,803.0q-1.0,9.3 -0.3,18.7M2491.3,796.2q0.7,8.8 0.1,17.5M2494.3,824.1q-1.2,12.1 0.6,24.2M2498.6,822.7q-0.3,12.4 0.0,24.9M2503.0,815.8q1.0,19.7 0.4,39.5M2502.1,815.9q-1.3,11.1 -0.7,22.1M2492.2,814.6q-1.0,16.1 -0.8,32.2M2505.7,835.4q-0.7,18.1 -0.5,36.1M2496.1,828.2q-0.2,11.9 -0.5,23.8M2507.8,833.7q-0.8,19.6 0.9,39.2M2496.4,826.0q-0.4,10.3 -0.1,20.7M2499.8,833.1q-1.5,8.0 -0.5,16.0M2492.6,841.6q-1.4,11.0 -0.4,22.0M2495.1,848.4q0.8,13.8 0.3,27.6M2503.5,846.5q-0.5,18.2 1.0,36.4M2493.6,850.0q-1.4,15.9 0.7,31.7M2506.6,851.3q0.9,14.4 -0.7,28.8M2500.2,867.7q0.9,12.6 0.7,25.1M2501.2,865.6q0.6,18.4 -0.5,36.8M2491.5,861.0q-1.2,7.0 0.7,14.0M2500.8,864.8q0.5,14.4 -0.0,28.8M2491.1,866.5q0.0,17.0 0.1,33.9M2502.5,881.3q-0.7,6.0 -0.9,12.0M2495.6,873.9q0.7,15.9 1.0,31.9M2499.6,877.7q0.6,10.7 0.5,21.5M2501.8,872.1q-1.1,14.6 -0.5,29.3M2504.0,878.9q-1.5,9.6 -0.9,19.1M2495.7,895.7q0.5,15.1 -0.4,30.2M2500.0,892.5q-1.1,12.0 0.8,23.9M2494.5,899.1q-1.4,19.7 -0.1,39.3M2505.3,892.3q-0.7,19.5 -0.6,39.0M2507.5,894.1q-1.1,8.2 0.0,16.3M2507.7,912.5q0.0,7.0 0.8,14.0M2503.3,913.6q-0.0,8.5 -1.0,16.9M2491.1,907.3q-0.6,12.4 -0.7,24.8M2497.0,912.8q-1.5,9.7 0.5,19.5M2505.7,914.0q0.6,6.8 0.8,13.6M2496.1,921.5q1.5,10.6 0.2,21.2M2497.3,919.9q-1.4,11.4 -0.8,22.8M2505.6,929.1q-0.8,9.3 -0.5,18.6M2499.9,921.2q1.4,7.8 0.8,15.7M2505.2,928.8q1.3,14.5 0.1,28.9M2503.6,941.3q-0.1,5.7 0.5,11.5M2502.3,931.7q1.3,9.3 -0.7,18.6M2499.3,935.2q0.7,10.2 1.0,20.3M2495.6,935.2q0.2,14.8 -0.2,29.7M2493.9,933.9q1.2,7.4 -0.0,14.8M2494.9,960.0q-0.2,18.6 -0.7,37.2M2494.4,950.8q-1.2,6.4 -0.5,12.7M2495.5,958.4q0.7,13.5 -0.2,27.1M2498.2,951.3q-0.5,12.9 -0.9,25.7M2495.9,947.8q0.0,19.5 0.3,39.0M2506.1,964.8q-0.8,8.2 -0.2,16.5M2498.8,972.9q1.1,19.3 -1.0,38.6M2491.6,973.5q-0.1,15.6 0.2,31.3M2491.0,974.0q1.0,10.9 0.7,21.7M2508.0,962.5q-1.0,8.7 0.0,17.5M2502.9,986.1q0.4,19.1 0.5,38.2M2499.0,976.6q0.8,13.3 -0.5,26.5M2507.1,980.3q-1.1,14.7 -0.5,29.4M2502.1,977.6q-1.3,15.5 0.0,31.0M2501.2,979.1q0.3,10.8 -1.0,21.6M2496.3,1004.4q0.4,11.9 0.8,23.8M2499.3,994.5q1.4,8.5 0.4,17.0M2496.4,998.0q0.5,5.3 -0.2,10.7M2495.5,1004.0q-0.8,15.0 -0.9,30.0M2496.9,1000.6q-0.9,11.3 0.6,22.6M2503.9,1008.9q1.4,12.6 -0.4,25.1M2505.4,1009.1q0.8,8.5 -0.4,16.9M2507.7,1008.6q-0.8,12.4 -0.2,24.9M2502.6,1008.0q-0.3,19.2 -0.6,38.5M2508.0,1006.7q-1.3,7.1 -0.2,14.3M2506.7,1031.3q1.5,18.3 0.9,36.5M2496.8,1034.1q0.7,7.8 -0.9,15.6M2502.6,1026.2q-0.5,10.7 -0.7,21.4M2491.1,1025.9q1.4,9.2 -0.8,18.4M2507.9,1026.0q1.0,8.1 0.6,16.2M2498.6,1042.6q-0.4,5.7 0.8,11.5M2494.4,1048.6q-1.4,10.5 -0.2,20.9M2505.2,1036.6q-1.4,16.5 -0.9,33.0M2507.1,1046.5q1.2,8.9 -0.3,17.7M2495.8,1044.6q-0.7,19.4 0.4,38.7M2496.5,1051.1q0.8,9.1 0.8,18.3M2502.1,1051.3q-0.8,19.1 -0.0,38.3M2507.7,1056.4q-0.7,19.3 -0.1,38.6M2499.6,1053.6q0.9,18.9 0.5,37.8M2505.4,1059.5q-0.5,16.6 -0.4,33.2M2497.3,1067.1q-0.9,16.7 0.5,33.5M2495.3,1066.5q0.2,6.0 -0.3,11.9M2508.2,1079.8q-0.7,18.3 -0.8,36.5M2492.7,1075.9q-0.2,12.5 -0.5,25.0M2498.3,1075.4q0.7,14.3 0.7,28.6M2502.6,1092.8q-0.6,6.8 0.1,13.6M2497.5,1083.8q-0.8,16.1 -0.5,32.1M2493.7,1089.1q-0.5,18.3 -0.2,36.5M2508.4,1084.2q0.9,12.6 0.3,25.2M2508.3,1087.6q1.0,6.5 0.7,13.1M2507.0,1100.1q-1.1,5.6 -0.6,11.2M2508.0,1109.0q-0.4,13.7 0.7,27.5M2498.9,1106.9q1.3,8.9 -0.8,17.8M2501.4,1099.0q-0.4,14.3 -0.7,28.6M2494.6,1104.4q0.5,8.8 -0.6,17.6M2491.2,1120.5q-0.9,9.9 -0.4,19.8M2494.6,1118.7q-1.3,16.9 -0.8,33.9M2497.9,1119.9q-1.2,13.3 -0.7,26.5M2503.2,1115.0q-0.6,11.1 0.9,22.3M2496.5,1116.0q-0.3,13.5 0.7,27.0M2508.4,1128.8q0.7,10.5 -0.6,20.9M2491.1,1131.9q1.0,18.5 -0.2,37.0M2506.4,1128.3q-1.5,11.9 0.1,23.8M2502.2,1127.2q0.4,18.6 -0.3,37.3M2499.8,1130.0q0.1,7.2 0.9,14.4M2492.9,1152.3q1.4,12.4 -0.6,24.7M2493.2,1154.7q-0.1,19.1 -0.9,38.3M2507.2,1153.7q0.4,10.8 0.6,21.6M2493.8,1144.1q-0.3,16.8 0.7,33.6M2505.5,1144.1q-0.3,7.7 0.0,15.5M2497.7,1159.5q0.7,6.8 0.8,13.7M2491.7,1166.6q-1.4,13.4 0.7,26.9M2493.1,1163.7q0.4,14.0 -0.4,28.0M2498.4,1162.0q0.5,13.7 -0.1,27.5M2498.7,1164.7q-0.0,5.4 -0.5,10.7M2504.4,1177.4q-1.0,16.7 -0.1,33.4M2492.9,1177.0q-1.2,6.9 -0.1,13.9M2499.9,1179.9q-1.3,5.6 0.5,11.2M2504.6,1171.8q0.0,12.7 -0.2,25.3M2507.6,1183.0q1.5,7.0 0.5,14.1M2505.3,1199.7q-0.0,7.9 0.9,15.8M2507.0,1197.0q1.3,7.5 -0.9,15.0M2497.1,1188.2q1.2,16.3 -0.5,32.7M2505.3,1193.0q1.3,7.2 -0.6,14.3M2495.6,1190.5q-1.4,12.6 -0.6,25.2M2493.8,1210.5q1.2,19.0 -0.7,38.1M2504.7,1208.4q0.4,6.7 -0.3,13.5M2506.3,1209.1q1.1,13.3 -0.8,26.7M2508.4,1206.5q0.9,14.4 -0.5,28.9M2508.3,1206.0q0.8,13.7 -0.1,27.3M2494.1,1216.7q1.0,16.2 -0.5,32.3M2502.2,1224.2q0.5,19.8 -0.4,39.5M2491.0,1218.1q0.3,5.5 -0.1,11.0M2500.0,1217.8q-0.8,18.4 0.3,36.9M2491.4,1221.0q-1.2,5.0 -0.3,10.1M2494.9,1239.2q-0.9,13.8 0.2,27.5M2499.3,1244.1q-0.8,7.0 -0.7,14.0M2492.7,1243.2q0.8,14.6 -0.2,29.1M2495.6,1240.0q0.2,5.2 -0.3,10.3M2502.3,1244.1q0.7,11.7 -0.5,23.3M2506.8,1253.4q-0.3,5.7 -0.5,11.3M2492.0,1246.2q0.2,16.7 0.9,33.4M2493.5,1254.5q0.0,8.0 0.3,16.0M2505.2,1250.3q-0.6,7.6 -0.9,15.2M2506.6,1256.0q-1.5,16.7 0.7,33.5M2504.0,1271.4q-0.1,12.0 -0.5,24.0M2492.8,1261.5q-0.5,8.5 0.5,17.0M2503.2,1271.0q-0.7,17.7 0.1,35.4M2498.6,1268.3q-0.7,16.8 0.3,33.7M2507.9,1273.3q-1.5,8.3 -0.5,16.5M2495.1,1289.2q0.7,16.2 -0.3,32.3M2506.4,1279.3q1.2,9.9 0.3,19.9M2503.1,1289.7q-0.1,15.0 0.7,30.0M2503.2,1282.1q0.7,17.9 0.1,35.7M2496.4,1284.7q-1.3,8.2 0.8,16.4M2493.5,1292.5q1.3,5.4 -0.3,10.8M2493.5,1291.6q0.6,5.4 0.3,10.9M2503.2,1291.9q0.3,16.1 -0.3,32.1M2505.3,1303.5q-1.3,17.3 0.7,34.6M2507.0,1292.5q-0.9,19.2 -0.8,38.3M2491.6,1317.4q0.4,17.7 0.7,35.4M2502.1,1307.4q-1.2,9.3 0.5,18.6M2494.6,1311.9q-1.4,9.8 -0.5,19.6M2495.9,1311.2q-0.5,15.7 0.9,31.5M2499.8,1314.7q-1.4,17.8 -0.2,35.5M2498.6,1325.9q0.6,16.6 0.1,33.2M2494.8,1322.3q1.0,17.9 -0.7,35.9M2491.0,1331.7q1.4,8.0 -1.0,16.1M2499.6,1332.2q-0.9,12.4 -0.0,24.7M2497.1,1324.6q1.3,17.5 -0.4,35.0M2494.8,1343.0q-1.2,15.5 0.3,31.0M2492.4,1345.8q0.9,16.8 0.3,33.6M2497.2,1341.5q1.2,11.0 -0.8,22.0M2506.5,1338.9q-0.7,5.4 0.8,10.8M2499.8,1348.4q-0.8,10.7 -0.1,21.4M2500.3,1361.5q0.4,16.3 -0.3,32.6M2496.7,1362.8q0.5,7.3 0.5,14.7M2494.0,1361.8q0.2,11.6 -0.7,23.2M2499.1,1354.3q-0.9,18.3 -0.4,36.6M2503.3,1353.2q-1.0,17.7 -0.5,35.3" stroke-width="0.9" stroke="#3a3a3a"/>
<path d="M2655.1,675.0 L2655.6,726.7 L2654.7,778.4 L2655.1,830.1 L2654.8,881.9 L2656.6,933.6 L2656.0,985.3 L2654.5,1037.0 L2656.6,1088.7 L2654.5,1140.4 L2655.2,1192.1 L2656.7,1243.9 L2656.2,1295.6 L2656.1,1347.3 L2655.3,1399.0" stroke-width="1.8"/><path d="M2678.8,675.0 L2679.8,726.7 L2678.6,778.4 L2678.8,830.1 L2679.2,881.9 L2678.4,933.6 L2679.3,985.3 L2680.2,1037.0 L2680.0,1088.7 L2679.5,1140.4 L2679.8,1192.1 L2679.4,1243.9 L2678.6,1295.6 L2679.7,1347.3 L2679.3,1399.0" stroke-width="1.8"/><path d="M2655.5,675.0Q2667.5,669.0 2679.5,675.0" stroke-width="1.6"/><path d="M2655.5,1399.0Q2667.5,1406.0 2679.5,1399.0" stroke-width="1.6"/><path d="M2672.1,682.0q0.2,18.6 0.5,37.2M2666.0,686.1q1.1,8.4 0.5,16.9M2671.3,685.5q0.4,17.8 -0.1,35.6M2663.9,677.4q-0.2,14.4 0.6,28.8M2671.5,679.5q-0.2,14.4 -0.1,28.9M2669.8,700.5q1.3,11.1 -0.6,22.3M2670.4,696.4q-0.0,16.7 0.9,33.3M2658.7,693.3q0.8,13.2 0.9,26.3M2667.9,699.0q0.1,6.5 0.4,13.0M2667.7,702.6q0.1,14.6 -0.2,29.2M2676.0,715.6q-0.3,8.2 0.5,16.3M2660.3,711.0q-1.3,19.8 -0.5,39.5M2665.6,711.9q-0.2,5.2 0.4,10.4M2664.7,709.1q0.7,9.0 0.9,18.0M2668.0,717.2q-0.3,8.3 -0.6,16.6M2660.5,732.3q0.4,16.6 -0.1,33.3M2668.7,734.5q-0.4,8.4 0.3,16.8M2673.6,727.6q-0.6,17.2 0.1,34.5M2660.4,726.0q1.1,17.5 -0.5,35.0M2665.1,727.0q-0.9,8.8 -1.0,17.6M2671.7,739.4q-0.6,9.2 -0.0,18.4M2666.1,745.2q-0.4,14.6 0.9,29.1M2674.2,747.6q1.2,5.9 0.6,11.7M2660.7,744.9q-1.5,17.5 -1.0,34.9M2676.1,739.5q-1.2,14.8 -0.7,29.7M2662.4,755.9q-1.0,16.6 0.8,33.3M2673.0,763.5q0.3,7.5 0.6,15.0M2670.7,762.0q1.0,18.4 -0.6,36.8M2671.2,761.4q-0.2,13.0 0.8,25.9M2668.5,754.3q-1.1,9.0 -0.0,17.9M2659.1,768.0q-0.0,12.0 -0.0,24.0M2668.3,766.1q1.0,17.9 -0.1,35.9M2668.7,777.8q-0.4,15.0 -0.2,30.0M2676.3,774.9q0.4,6.1 -0.9,12.3M2669.6,779.0q-0.5,15.2 1.0,30.5M2667.7,793.6q-1.4,12.3 0.4,24.5M2669.9,793.1q-0.4,10.1 -0.1,20.2M2668.0,784.0q-0.2,16.6 -0.2,33.1M2668.5,785.1q1.0,17.4 -0.2,34.8M2667.6,788.1q1.4,9.1 0.3,18.2M2673.0,800.4q-0.6,10.0 0.2,19.9M2670.1,796.6q0.7,16.8 0.8,33.5M2668.4,800.2q-1.5,5.7 -0.6,11.5M2675.5,805.2q0.9,14.1 0.8,28.3M2669.6,804.8q0.6,14.3 0.2,28.5M2670.9,820.3q-0.1,8.2 0.5,16.4M2659.9,811.5q0.8,7.7 0.8,15.4M2670.5,822.5q0.9,10.5 0.1,21.1M2662.9,816.9q-0.5,9.5 -0.1,19.1M2670.2,811.8q0.2,19.0 -0.9,38.0M2660.3,834.1q1.3,17.2 -0.1,34.3M2658.3,834.3q1.3,10.8 1.0,21.6M2667.0,827.4q0.4,11.2 -0.6,22.4M2660.9,826.1q0.6,5.2 -0.8,10.5M2676.4,838.2q-1.1,6.3 -1.0,12.6M2671.7,851.3q-0.9,8.6 -0.9,17.3M2672.7,853.0q0.7,15.7 -0.8,31.4M2669.9,847.4q1.3,15.6 -0.5,31.3M2676.3,841.2q-1.5,15.8 0.3,31.5M2673.5,845.4q0.7,6.2 -0.7,12.4M2674.4,856.8q-0.4,12.3 0.1,24.6M2666.3,858.0q0.9,15.2 -0.3,30.3M2670.3,861.9q-0.3,14.4 0.6,28.9M2676.0,863.9q-0.6,16.8 -0.9,33.5M2676.5,867.6q-0.5,15.5 0.2,31.1M2676.6,879.4q-0.6,17.5 -0.1,34.9M2674.9,880.6q0.3,10.7 0.8,21.3M2673.3,871.0q-0.7,9.2 -0.2,18.5M2669.1,883.4q-1.4,17.2 0.7,34.5M2673.4,879.0q-0.7,18.0 0.7,36.0M2673.3,898.8q-0.5,15.3 -0.8,30.5M2668.5,888.8q0.8,17.0 0.9,33.9M2662.4,895.5q-0.1,14.1 -0.6,28.2M2662.8,897.1q-0.1,16.3 -0.8,32.5M2673.3,889.3q0.2,16.6 0.8,33.2M2674.8,907.7q0.3,12.8 -0.6,25.7M2661.7,910.8q-0.4,7.7 0.1,15.4M2665.6,903.1q-1.4,12.8 1.0,25.5M2665.1,909.9q0.9,6.6 -0.7,13.2M2669.3,908.3q-1.4,10.2 -0.9,20.3M2676.8,922.8q0.2,18.0 -0.5,36.0M2672.8,929.3q0.8,11.4 0.6,22.8M2676.3,916.5q-0.9,8.8 -0.6,17.6M2659.6,923.8q1.1,5.8 -0.1,11.5M2676.0,916.9q0.3,18.6 -0.2,37.3M2660.3,934.6q0.2,19.4 0.3,38.8M2676.2,936.5q-0.2,15.0 -0.7,30.1M2676.3,934.1q-1.4,19.9 -0.5,39.8M2664.7,943.7q1.0,18.5 -0.9,37.1M2672.9,940.1q1.5,15.6 -0.9,31.3M2660.8,959.2q0.5,16.3 -0.4,32.6M2669.2,947.5q-0.5,16.4 -0.5,32.7M2660.4,948.4q-0.8,12.2 -0.7,24.4M2670.9,956.0q-0.9,5.2 -0.9,10.4M2675.6,959.1q1.1,8.3 0.8,16.6M2660.7,962.4q1.3,11.7 0.7,23.4M2669.9,965.8q1.0,11.8 -0.0,23.6M2669.9,964.1q-1.3,7.1 0.4,14.3M2668.5,973.2q-0.7,7.2 -0.2,14.3M2661.0,972.8q-0.5,9.1 -0.7,18.1M2667.3,988.6q-1.2,9.8 1.0,19.5M2659.1,985.4q-0.9,18.4 -0.0,36.9M2663.4,978.8q-0.4,8.9 1.0,17.7M2677.0,977.4q-0.6,18.9 0.8,37.8M2659.1,980.1q1.4,15.9 -1.0,31.8M2673.3,993.0q-1.5,10.1 0.7,20.2M2668.0,997.1q1.2,7.8 -0.6,15.6M2668.9,993.5q0.8,7.1 0.4,14.1M2661.7,992.2q0.3,6.2 -0.0,12.4M2663.2,999.6q0.6,8.1 0.6,16.2M2669.1,1006.9q0.7,8.0 -0.2,16.1M2671.7,1017.3q-0.5,5.8 0.7,11.7M2674.4,1006.2q1.2,12.4 -0.0,24.8M2674.6,1008.6q1.0,9.0 -0.3,18.0M2661.1,1014.3q-1.5,10.6 0.0,21.1M2666.5,1022.7q0.6,12.7 0.6,25.5M2674.4,1031.0q-0.4,9.8 0.5,19.6M2659.2,1034.4q-0.0,18.1 0.0,36.2M2668.1,1021.3q1.4,13.1 -0.6,26.1M2661.5,1024.5q1.0,6.5 -0.9,13.1M2659.8,1038.7q-1.4,15.5 0.2,31.0M2669.0,1045.8q-1.2,12.8 0.7,25.7M2671.6,1037.7q-0.0,5.7 0.0,11.4M2663.3,1041.7q-1.1,6.8 0.2,13.7M2674.4,1044.0q0.7,7.2 -0.7,14.4M2673.7,1056.4q-0.2,19.1 0.7,38.1M2668.0,1064.2q0.8,10.9 -0.3,21.9M2662.6,1057.1q1.4,10.0 0.6,20.1M2675.3,1062.9q-1.3,17.2 0.0,34.5M2676.2,1054.5q-0.2,19.0 0.3,38.0M2664.9,1067.0q-0.2,13.0 0.0,25.9M2658.4,1079.6q0.8,7.1 0.9,14.2M2670.0,1078.4q1.2,17.1 -0.9,34.3M2670.2,1075.5q-0.7,9.0 0.1,18.0M2675.6,1069.5q0.1,14.3 -0.1,28.6M2676.1,1085.3q0.4,9.3 -0.8,18.6M2669.3,1088.2q-0.7,19.3 -0.1,38.7M2668.1,1082.7q-1.1,7.2 -0.4,14.5M2665.7,1084.4q-1.2,9.3 0.1,18.6M2674.0,1089.0q0.5,14.1 -0.6,28.3M2671.5,1103.7q0.3,11.9 -0.1,23.8M2663.9,1099.1q0.0,8.6 -0.2,17.3M2669.1,1100.9q1.1,5.2 -0.5,10.4M2668.6,1100.0q1.5,12.4 -0.4,24.7M2672.7,1096.9q1.1,7.4 -0.1,14.8M2659.2,1117.2q0.7,10.8 -0.8,21.6M2662.3,1121.3q-1.0,19.4 -0.3,38.8M2664.7,1119.6q1.0,15.1 0.6,30.3M2667.8,1121.4q0.8,16.1 -0.0,32.2M2672.9,1123.8q-1.1,15.6 0.7,31.3M2658.1,1134.2q-0.0,16.5 0.9,33.0M2668.9,1137.0q1.1,11.3 0.2,22.5M2665.2,1132.4q0.7,11.8 -0.4,23.6M2665.4,1131.4q-0.5,13.3 0.6,26.7M2674.1,1132.2q-0.9,12.5 -0.4,25.0M2660.8,1149.1q-1.2,13.6 0.8,27.3M2664.2,1152.7q1.4,17.7 -0.6,35.3M2666.1,1141.1q-1.4,18.7 0.1,37.3M2667.4,1151.8q0.1,18.8 1.0,37.6M2667.8,1150.6q-0.3,12.8 -0.3,25.5M2669.3,1169.3q0.5,10.3 0.1,20.5M2659.9,1161.6q0.2,10.6 0.1,21.2M2674.7,1162.8q-0.2,19.5 0.2,38.9M2676.9,1163.4q0.9,10.1 -0.7,20.3M2664.0,1167.6q0.0,19.7 -0.8,39.4M2675.0,1182.5q1.5,15.3 0.8,30.7M2666.0,1175.1q0.0,7.3 0.0,14.7M2661.6,1179.8q0.3,7.7 -0.3,15.5M2676.9,1171.6q-0.3,14.5 0.6,29.1M2663.8,1171.1q-0.6,15.4 0.7,30.7M2669.1,1188.8q-0.0,15.0 0.1,30.0M2663.1,1193.4q1.5,14.7 0.1,29.4M2665.8,1188.2q0.8,6.8 -0.8,13.6M2659.9,1193.3q1.0,7.6 0.2,15.1M2673.3,1186.2q0.8,5.9 -0.4,11.9M2671.6,1203.4q-0.7,10.3 -0.8,20.6M2675.2,1205.9q-0.2,13.7 -0.2,27.5M2659.0,1209.2q1.4,18.4 -0.1,36.7M2669.8,1201.6q1.3,8.7 0.7,17.5M2664.0,1212.4q-0.6,18.5 0.2,37.0M2676.2,1229.3q-0.8,12.4 -0.2,24.9M2671.7,1220.3q1.1,8.3 -0.0,16.6M2673.1,1218.4q-0.4,8.7 -0.6,17.3M2676.5,1223.9q-1.2,9.4 0.1,18.7M2665.3,1216.9q-1.1,11.0 0.7,22.1M2664.7,1233.7q-0.6,8.7 -0.5,17.3M2658.7,1235.8q-1.0,15.0 0.4,29.9M2659.8,1242.7q-1.1,9.0 -0.1,18.1M2673.9,1233.2q-0.4,17.1 0.4,34.1M2665.2,1233.9q1.4,19.4 0.0,38.8M2662.3,1247.8q0.6,11.8 -0.5,23.6M2675.1,1251.2q-0.8,13.8 0.2,27.6M2662.0,1247.7q0.0,18.1 0.1,36.2M2663.1,1251.4q0.5,16.6 0.1,33.2M2663.9,1247.2q-1.0,10.8 0.7,21.7M2664.1,1262.5q0.2,14.9 -0.3,29.9M2667.5,1261.9q-0.6,9.5 -0.5,18.9M2660.4,1265.0q-0.3,15.8 0.8,31.5M2672.7,1273.1q-1.1,18.2 -0.4,36.5M2658.6,1270.3q-0.4,15.2 -0.2,30.4M2670.5,1279.5q1.0,15.5 -0.3,31.0M2669.9,1277.6q1.2,7.7 0.5,15.4M2671.5,1276.6q-1.0,5.6 -0.6,11.2M2663.8,1276.5q-0.6,10.7 0.3,21.4M2661.4,1284.0q0.6,17.6 -0.5,35.2M2666.3,1295.9q-1.5,15.3 0.7,30.5M2672.8,1291.6q1.1,9.3 0.2,18.6M2658.9,1292.6q0.9,8.7 -0.6,17.3M2675.4,1292.2q0.6,16.2 -0.2,32.5M2672.2,1294.9q-1.2,17.4 0.9,34.9M2666.1,1315.7q0.7,19.0 0.7,37.9M2669.9,1306.8q0.6,11.8 -0.1,23.6M2667.7,1307.8q0.8,18.9 -0.9,37.8M2671.4,1309.7q0.1,17.1 0.9,34.2M2670.1,1309.5q-1.3,13.2 -0.3,26.3M2665.8,1325.3q-1.1,8.0 0.4,16.0M2670.7,1324.4q0.0,8.6 -0.1,17.1M2675.8,1325.2q1.2,10.3 -0.7,20.5M2668.7,1332.4q0.1,10.0 0.5,20.0M2661.2,1329.4q-0.1,15.0 0.5,30.0M2673.8,1340.1q-0.4,6.7 -0.6,13.4M2659.1,1338.8q0.6,9.2 -0.1,18.4M2660.1,1342.6q-0.4,9.9 -0.7,19.7M2659.4,1349.9q0.8,5.2 -0.8,10.3M2671.6,1343.9q-1.2,19.7 -0.0,39.4" stroke-width="0.9" stroke="#3a3a3a"/>
<path d="M2511.5,780.5Q2583.25,778 2655,778.5M2511.5,804.7Q2583.25,802.7 2655,802.2" stroke-width="1.7"/><path d="M2565.5,785.2q8.3,-1.2 16.7,0.7M2590.2,793.9q11.5,0.4 23.0,-0.4M2543.4,784.2q4.2,0.7 8.4,0.5M2549.3,785.2q9.1,0.8 18.2,0.7M2534.3,797.0q10.6,0.6 21.3,-0.3M2536.2,797.8q6.6,-0.3 13.1,0.1M2557.9,797.9q5.9,-1.1 11.8,0.1M2588.3,797.6q9.6,1.0 19.3,0.7M2572.6,791.3q5.3,-0.5 10.5,0.1M2523.9,795.1q5.3,-0.1 10.6,0.8M2525.0,782.3q7.5,-0.7 15.0,0.4M2514.8,798.1q10.8,0.7 21.7,-0.1M2547.8,794.5q8.1,-0.2 16.2,-0.3M2566.0,794.6q10.6,1.0 21.2,-0.5M2549.2,790.2q8.5,-0.4 17.0,-0.5M2524.5,787.9q7.7,1.1 15.4,0.7M2616.2,800.7q11.7,0.3 23.4,0.5M2521.6,794.8q8.9,-0.5 17.7,0.1M2626.5,791.0q9.2,-0.5 18.4,-0.3M2618.5,782.0q5.5,0.4 11.0,-0.1M2524.5,794.5q7.0,0.2 14.0,-0.1M2576.8,792.6q7.2,-0.9 14.3,-0.5M2619.1,792.3q4.9,0.9 9.8,-0.4M2525.7,792.0q6.0,-0.0 12.0,0.1M2541.1,792.8q4.9,0.0 9.8,0.1M2523.9,789.5q4.6,-0.1 9.2,0.6M2579.2,795.6q10.1,-0.9 20.1,0.8M2599.3,783.5q10.6,-0.3 21.3,-0.5M2627.3,792.6q10.2,-0.9 20.4,0.4M2521.3,786.2q7.0,-1.2 14.0,0.2M2539.5,787.4q9.7,-0.2 19.3,0.6M2587.5,798.7q8.5,1.0 17.0,0.6M2534.2,796.2q6.7,0.6 13.5,0.3M2611.5,783.9q7.0,0.6 14.0,0.7M2599.3,782.4q8.8,-1.0 17.7,0.1M2608.9,783.7q11.4,0.4 22.8,-0.4M2537.2,790.3q10.7,0.2 21.4,-0.6M2517.0,783.7q10.4,-0.8 20.8,0.1M2548.6,795.0q7.0,-0.9 14.1,0.6M2577.8,795.1q10.5,1.1 20.9,-0.8M2554.7,784.5q8.0,0.9 16.0,0.5M2518.7,785.1q10.5,0.4 21.1,-0.2M2570.4,784.6q10.8,-0.3 21.5,0.6M2586.3,783.0q6.6,-0.7 13.3,0.6M2583.7,782.4q5.4,-0.3 10.7,-0.1M2582.3,789.1q6.8,-1.2 13.7,0.1M2553.7,781.9q7.7,1.2 15.4,-0.7M2531.6,794.7q6.2,-0.5 12.4,0.0M2545.3,792.7q8.2,1.1 16.5,0.8M2518.5,792.5q10.2,0.9 20.3,0.4M2588.9,794.0q6.9,-0.5 13.8,0.5M2617.1,800.0q9.5,-0.5 18.9,0.4M2601.4,791.5q9.1,-0.4 18.2,0.1M2562.2,782.7q6.7,-0.4 13.4,0.8M2571.1,788.7q5.9,-0.6 11.9,-0.2M2530.4,781.6q11.0,-0.1 21.9,-0.1M2581.3,787.5q5.4,-1.0 10.7,-0.3M2550.7,795.8q8.4,1.0 16.8,-0.3M2622.7,793.0q4.6,-0.8 9.3,0.1M2630.5,788.5q10.2,-0.2 20.4,0.6" stroke-width="0.8" stroke="#333"/>
<path d="M2511.5,1005.5Q2583.25,1003 2655,1003.5M2511.5,1031Q2583.25,1029 2655,1028.5" stroke-width="1.7"/><path d="M2522.5,1016.7q11.2,-0.5 22.4,-0.4M2517.2,1010.0q6.1,0.5 12.3,-0.5M2561.4,1010.7q8.8,0.9 17.6,0.2M2537.6,1021.9q11.7,0.2 23.4,-0.7M2609.6,1024.9q6.7,-0.9 13.5,-0.5M2577.6,1024.9q9.1,1.0 18.2,-0.5M2552.9,1022.2q9.2,-0.2 18.4,0.3M2554.2,1007.7q7.3,-1.1 14.6,0.2M2553.8,1016.9q8.8,-0.6 17.6,-0.1M2516.1,1025.9q8.5,1.2 17.0,-0.7M2586.6,1021.7q6.6,-1.0 13.3,-0.6M2531.3,1022.6q4.7,0.8 9.4,-0.1M2577.8,1018.9q8.4,0.4 16.9,0.2M2553.4,1022.1q6.1,0.5 12.1,0.4M2605.7,1013.0q10.2,1.1 20.4,-0.1M2547.2,1017.5q11.5,-0.9 23.1,-0.8M2570.4,1020.3q10.2,-0.3 20.4,0.8M2541.3,1022.4q4.7,-1.1 9.4,-0.6M2521.6,1017.0q8.4,-0.8 16.9,0.7M2557.5,1009.6q5.4,0.6 10.8,0.7M2533.5,1007.1q10.2,-0.6 20.4,0.8M2573.1,1019.9q6.8,0.7 13.5,-0.1M2552.6,1025.5q4.9,0.6 9.7,-0.7M2590.3,1014.9q10.9,-1.1 21.8,0.1M2562.7,1025.8q11.6,0.3 23.1,-0.4M2544.1,1012.0q7.5,-0.6 14.9,-0.5M2603.7,1020.0q6.4,1.2 12.8,-0.5M2581.4,1009.8q10.9,0.9 21.8,-0.4M2602.8,1023.8q6.3,-0.4 12.5,-0.0M2619.2,1009.9q9.5,0.2 18.9,-0.1M2582.6,1025.0q5.7,0.9 11.4,-0.2M2606.1,1024.6q5.5,0.9 10.9,0.8M2549.5,1007.0q4.9,1.1 9.8,-0.8M2621.6,1009.7q9.9,-1.0 19.8,-0.5M2594.7,1008.4q6.7,1.0 13.4,0.3M2618.1,1027.1q4.3,-0.6 8.5,0.5M2595.5,1007.3q8.0,-0.6 16.1,-0.1M2526.8,1006.9q11.9,-0.4 23.9,0.6M2528.7,1016.7q5.1,-0.2 10.2,-0.5M2595.0,1009.6q9.9,0.0 19.8,-0.6M2556.0,1016.9q11.3,-0.4 22.7,-0.5M2628.2,1025.0q9.9,-0.5 19.7,-0.5M2545.6,1007.9q4.3,0.0 8.7,-0.1M2579.9,1014.1q4.1,0.5 8.2,0.2M2578.4,1018.0q9.5,1.2 19.0,0.6M2598.8,1014.9q6.5,-0.2 13.1,0.8M2560.0,1014.6q7.3,-0.9 14.6,0.8M2515.1,1019.3q11.4,-0.6 22.8,0.2M2558.8,1011.6q5.6,-0.9 11.2,0.5M2606.6,1025.6q4.4,0.5 8.8,-0.3M2590.4,1018.0q6.5,1.1 13.0,-0.8M2602.2,1024.4q8.1,0.2 16.2,0.8M2542.0,1019.7q9.9,-0.3 19.9,0.3M2560.7,1017.6q8.9,0.4 17.8,-0.3M2588.4,1017.9q5.8,0.3 11.6,-0.4M2621.3,1016.4q9.8,0.1 19.5,-0.0M2540.5,1009.5q11.4,0.1 22.8,0.0M2576.5,1023.6q5.9,-0.8 11.8,0.5M2568.6,1020.0q10.6,0.9 21.2,0.6M2519.6,1014.5q10.7,0.8 21.3,-0.6" stroke-width="0.8" stroke="#333"/>
<path d="M2511.5,1230.5Q2583.25,1228 2655,1228.5M2511.5,1256.4Q2583.25,1254.4 2655,1253.9" stroke-width="1.7"/><path d="M2532.6,1236.9q4.8,-0.3 9.6,0.5M2575.8,1241.2q4.7,-0.3 9.4,0.8M2596.2,1241.1q7.8,0.7 15.7,0.4M2532.1,1246.1q6.9,0.0 13.9,-0.4M2558.1,1238.8q7.0,-1.2 14.1,-0.5M2581.5,1232.7q5.4,0.5 10.9,-0.4M2552.6,1236.7q10.7,-1.0 21.3,0.2M2615.4,1235.8q7.4,0.7 14.8,0.2M2558.2,1232.4q7.5,-0.3 15.1,0.3M2549.2,1240.2q9.2,0.7 18.4,-0.2M2559.8,1243.9q11.4,-0.7 22.8,0.8M2598.1,1239.5q9.3,-0.4 18.6,-0.7M2603.3,1239.6q8.2,-0.0 16.4,0.6M2603.5,1232.0q8.7,-0.1 17.5,-0.1M2613.2,1240.4q7.8,0.9 15.6,-0.1M2572.2,1242.5q10.6,0.4 21.2,0.4M2561.7,1232.4q9.4,0.1 18.9,0.4M2605.0,1234.0q5.8,-1.0 11.5,0.5M2526.5,1233.4q10.0,0.2 20.1,-0.7M2594.5,1246.7q7.9,-1.1 15.7,0.3M2563.6,1244.0q12.0,0.8 24.0,0.6M2531.6,1238.7q8.1,-1.2 16.3,0.8M2546.8,1237.1q6.5,-0.6 13.0,0.6M2579.8,1242.4q7.4,-1.1 14.7,-0.3M2616.3,1248.7q10.9,-0.6 21.7,-0.5M2520.6,1243.0q7.0,-0.1 14.0,-0.0M2583.1,1239.3q10.4,-0.7 20.8,0.7M2579.8,1232.6q6.5,0.1 13.0,-0.1M2580.9,1238.4q6.2,0.7 12.4,-0.3M2598.0,1248.7q8.7,-0.1 17.5,0.7M2566.8,1250.3q4.5,-0.2 8.9,0.2M2520.3,1250.0q4.6,0.2 9.2,-0.5M2622.9,1243.5q10.4,-0.0 20.8,0.3M2593.8,1237.8q5.7,0.8 11.4,-0.6M2622.3,1235.9q4.8,-1.0 9.6,0.5M2626.2,1240.4q9.3,-0.6 18.5,0.6M2595.1,1234.8q4.5,0.5 8.9,-0.7M2612.7,1237.8q5.9,0.2 11.7,-0.3M2580.4,1234.8q11.3,-0.4 22.6,0.5M2532.3,1248.6q11.8,-0.3 23.7,-0.7M2559.1,1245.2q5.8,0.1 11.6,-0.7M2569.1,1247.1q7.4,0.4 14.9,-0.6M2611.8,1234.1q11.4,1.2 22.8,0.7M2576.3,1237.7q6.8,0.6 13.6,-0.0M2623.8,1233.5q7.9,0.9 15.8,0.2M2578.0,1233.4q5.1,-0.5 10.2,0.6M2613.8,1236.4q11.4,-1.1 22.8,0.2M2628.2,1238.9q11.6,0.4 23.1,-0.7M2553.6,1241.1q6.0,0.6 12.0,-0.5M2607.1,1237.9q4.6,0.1 9.1,-0.6M2579.3,1248.4q8.8,-0.1 17.5,-0.7M2574.8,1233.6q9.2,-0.9 18.3,0.1M2556.0,1239.5q9.3,-0.8 18.6,-0.5M2625.1,1238.6q10.7,0.9 21.5,-0.0M2532.0,1233.5q11.0,-0.9 22.1,-0.0M2577.5,1234.0q7.7,-0.8 15.5,0.1M2574.0,1239.4q5.6,-0.2 11.2,-0.5M2529.4,1236.6q11.0,0.0 21.9,0.6M2516.3,1251.7q7.9,0.7 15.8,0.1M2595.5,1236.4q10.0,-0.8 20.0,-0.4" stroke-width="0.8" stroke="#333"/>
<path d="M2680,786.7H2746.5M2680,791.1H2746.5" stroke-width="1.3"/>
<path d="M2680,1010.5H2746.5M2680,1014.9H2746.5" stroke-width="1.3"/>
<path d="M2680,1239.2H2746.5M2680,1243.6000000000001H2746.5" stroke-width="1.3"/>
</g>
<path d="M2689.8,1236.0L2689.8,1025.6" stroke="#000" stroke-width="1.6" fill="none"/><polygon points="2689.8,1017.6 2694.3,1027.6 2685.3,1027.6" fill="#000"/>
<path d="M2689.8,1008.0L2689.8,801.8" stroke="#000" stroke-width="1.6" fill="none"/><polygon points="2689.8,793.8 2694.3,803.8 2685.3,803.8" fill="#000"/>
<rect x="2746.6" y="695.9" width="364.3" height="185.3" fill="#fff" stroke="#111" stroke-width="1.4" rx="2"/>
<rect x="2746.6" y="922.1" width="364.3" height="186.1" fill="#fff" stroke="#111" stroke-width="1.4" rx="2"/>
<rect x="2746.6" y="1149.6" width="364.3" height="184.4" fill="#fff" stroke="#111" stroke-width="1.4" rx="2"/>
<text x="2755.3" y="718.5" font-family='"Liberation Sans", sans-serif' font-size="20" textLength="209.2" lengthAdjust="spacingAndGlyphs" stroke="#000" stroke-width="0.25">3. COUNTERFACTUALS</text>
<text x="2756.0" y="741.1" font-family='"Liberation Sans", sans-serif' font-size="14.6" textLength="69.6" lengthAdjust="spacingAndGlyphs" stroke="#000" stroke-width="0.25">ACTIVITY:</text>
<text x="2843.1" y="741.1" font-family='"Liberation Serif", serif' font-size="13.6" fill="#1c1c1c" textLength="215.3" lengthAdjust="spacingAndGlyphs">Imagining, Retrospection, Understanding</text>
<text x="2755.4" y="770.3" font-family='"Liberation Sans", sans-serif' font-size="14.6" textLength="76.1" lengthAdjust="spacingAndGlyphs" stroke="#000" stroke-width="0.25">QUESTIONS:</text>
<text x="2842.8" y="770.3" font-family='"Liberation Serif", serif' font-size="13.6" font-style="italic" fill="#333" textLength="143.3" lengthAdjust="spacingAndGlyphs">What if I had done …? Why?</text>
<text x="2843.0" y="785.1" font-family='"Liberation Serif", serif' font-size="13.6" fill="#1c1c1c" textLength="228.2" lengthAdjust="spacingAndGlyphs">(Was it X that caused Y? What if X had not</text>
<text x="2843.1" y="799.1" font-family='"Liberation Serif", serif' font-size="13.6" fill="#1c1c1c" textLength="223.4" lengthAdjust="spacingAndGlyphs">occurred? What if I had acted differently?)</text>
<text x="2755.0" y="826.0" font-family='"Liberation Sans", sans-serif' font-size="14.6" textLength="70.4" lengthAdjust="spacingAndGlyphs" stroke="#000" stroke-width="0.25">EXAMPLES:</text>
<text x="2843.6" y="826.0" font-family='"Liberation Serif", serif' font-size="13.6" fill="#1c1c1c" textLength="234.3" lengthAdjust="spacingAndGlyphs">Was it the aspirin that stopped my headache?</text>
<text x="2843.6" y="840.9" font-family='"Liberation Serif", serif' font-size="13.6" fill="#1c1c1c" textLength="226.1" lengthAdjust="spacingAndGlyphs">Would Kennedy be alive if Oswald had not</text>
<text x="2843.3" y="855.5" font-family='"Liberation Serif", serif' font-size="13.6" fill="#1c1c1c" textLength="235.4" lengthAdjust="spacingAndGlyphs">killed him? What if I had not smoked for the</text>
<text x="2843.3" y="870.4" font-family='"Liberation Serif", serif' font-size="13.6" fill="#1c1c1c" textLength="62.0" lengthAdjust="spacingAndGlyphs">last 2 years?</text>
<text x="2755.1" y="943.8" font-family='"Liberation Sans", sans-serif' font-size="20" textLength="157.4" lengthAdjust="spacingAndGlyphs" stroke="#000" stroke-width="0.25">2. INTERVENTION</text>
<text x="2756.0" y="967.5" font-family='"Liberation Sans", sans-serif' font-size="14.6" textLength="69.6" lengthAdjust="spacingAndGlyphs" stroke="#000" stroke-width="0.25">ACTIVITY:</text>
<text x="2843.2" y="967.5" font-family='"Liberation Serif", serif' font-size="13.6" fill="#1c1c1c" textLength="100.6" lengthAdjust="spacingAndGlyphs">Doing, Intervening</text>
<text x="2755.4" y="997.3" font-family='"Liberation Sans", sans-serif' font-size="14.6" textLength="76.1" lengthAdjust="spacingAndGlyphs" stroke="#000" stroke-width="0.25">QUESTIONS:</text>
<text x="2842.8" y="997.3" font-family='"Liberation Serif", serif' font-size="13.6" font-style="italic" fill="#333" textLength="113.9" lengthAdjust="spacingAndGlyphs">What if I do …? How?</text>
<text x="2843.0" y="1012.8" font-family='"Liberation Serif", serif' font-size="13.6" fill="#1c1c1c" textLength="151.3" lengthAdjust="spacingAndGlyphs">(What would Y be if I do X?</text>
<text x="2843.2" y="1029.0" font-family='"Liberation Serif", serif' font-size="13.6" fill="#1c1c1c" textLength="148.8" lengthAdjust="spacingAndGlyphs">How can I make Y happen?)</text>
<text x="2755.0" y="1061.3" font-family='"Liberation Sans", sans-serif' font-size="14.6" textLength="70.4" lengthAdjust="spacingAndGlyphs" stroke="#000" stroke-width="0.25">EXAMPLES:</text>
<text x="2843.1" y="1061.3" font-family='"Liberation Serif", serif' font-size="13.6" fill="#1c1c1c" textLength="231.1" lengthAdjust="spacingAndGlyphs">If I take aspirin, will my headache be cured?</text>
<text x="2843.6" y="1076.8" font-family='"Liberation Serif", serif' font-size="13.6" fill="#1c1c1c" textLength="138.4" lengthAdjust="spacingAndGlyphs">What if we ban cigarettes?</text>
<text x="2753.6" y="1170.3" font-family='"Liberation Sans", sans-serif' font-size="20" textLength="144.6" lengthAdjust="spacingAndGlyphs" stroke="#000" stroke-width="0.25">1. ASSOCIATION</text>
<text x="2756.0" y="1194.0" font-family='"Liberation Sans", sans-serif' font-size="14.6" textLength="69.6" lengthAdjust="spacingAndGlyphs" stroke="#000" stroke-width="0.25">ACTIVITY:</text>
<text x="2842.7" y="1194.0" font-family='"Liberation Serif", serif' font-size="13.6" fill="#1c1c1c" textLength="96.3" lengthAdjust="spacingAndGlyphs">Seeing, Observing</text>
<text x="2755.4" y="1223.7" font-family='"Liberation Sans", sans-serif' font-size="14.6" textLength="76.1" lengthAdjust="spacingAndGlyphs" stroke="#000" stroke-width="0.25">QUESTIONS:</text>
<text x="2842.8" y="1223.7" font-family='"Liberation Serif", serif' font-size="13.6" font-style="italic" fill="#333" textLength="80.6" lengthAdjust="spacingAndGlyphs">What if I see ...?</text>
<text x="2843.0" y="1239.2" font-family='"Liberation Serif", serif' font-size="13.6" fill="#1c1c1c" textLength="161.0" lengthAdjust="spacingAndGlyphs">(How are the variables related?</text>
<text x="2843.2" y="1255.4" font-family='"Liberation Serif", serif' font-size="13.6" fill="#1c1c1c" textLength="236.8" lengthAdjust="spacingAndGlyphs">How would seeing X change my belief in Y?)</text>
<text x="2755.0" y="1287.8" font-family='"Liberation Sans", sans-serif' font-size="14.6" textLength="70.4" lengthAdjust="spacingAndGlyphs" stroke="#000" stroke-width="0.25">EXAMPLES:</text>
<text x="2843.6" y="1287.8" font-family='"Liberation Serif", serif' font-size="13.6" fill="#1c1c1c" textLength="241.9" lengthAdjust="spacingAndGlyphs">What does a symptom tell me about a disease?</text>
<text x="2843.6" y="1304.0" font-family='"Liberation Serif", serif' font-size="13.6" fill="#1c1c1c" textLength="189.5" lengthAdjust="spacingAndGlyphs">What does a survey tell us about the</text>
<text x="2843.1" y="1319.5" font-family='"Liberation Serif", serif' font-size="13.6" fill="#1c1c1c" textLength="83.2" lengthAdjust="spacingAndGlyphs">election results?</text>
<g transform="translate(2480,510) scale(0.19542)" stroke="#111" fill="none" stroke-linecap="round" stroke-linejoin="round" stroke-width="7">
<path fill="#fff" d="M530,640C500,560 540,500 585,490C540,440 580,380 645,375C620,300 680,230 770,235C800,230 850,240 870,250C920,180 1050,150 1120,185C1170,140 1280,120 1335,150C1360,70 1520,50 1545,140C1640,160 1680,260 1620,340C1710,380 1710,500 1640,540C1680,640 1600,720 1510,715C1470,800 1380,850 1310,835C1250,880 1100,890 1030,870C950,890 860,870 820,840C760,900 640,900 600,830C540,780 510,700 530,640Z"/>
<circle cx="423" cy="545" r="10"/><circle cx="468" cy="525" r="14"/><circle cx="525" cy="505" r="18"/>
<ellipse cx="775" cy="385" rx="88" ry="30" transform="rotate(0 775 385)" stroke-width="6"/>
<ellipse cx="775" cy="385" rx="88" ry="30" transform="rotate(60 775 385)" stroke-width="6"/>
<ellipse cx="775" cy="385" rx="88" ry="30" transform="rotate(120 775 385)" stroke-width="6"/>
<circle cx="775" cy="385" r="15" fill="#111"/>
<rect x="650" y="520" width="222" height="142" rx="14" stroke-width="9"/><rect x="672" y="540" width="180" height="108" rx="6" stroke-width="5"/>
<path d="M655,668H868L925,735Q770,765 615,735Z" stroke-width="8"/><path d="M615,737Q770,775 925,737" stroke-width="9"/>
<rect x="670" y="680" width="200" height="24" rx="4" fill="#444" stroke-width="4"/><rect x="735" y="714" width="66" height="16" rx="8" stroke-width="5"/>
<path d="M715,590L745,560M735,605L775,565M790,585L800,575" stroke-width="3" stroke="#777"/>
<path d="M1025,215H1135L1145,790M1025,215V790M1025,215L950,290L960,790" stroke-width="8"/>
<path d="M1140,295H1290L1295,790M1150,338H1285M1150,348H1285" stroke-width="7"/>
<path d="M925,792L1350,788" stroke-width="6"/>
<path d="M1040,246h17v18h-17zM1078,246h17v18h-17zM1108,246h17v18h-17zM962,268l14,-5v18l-14,5zM994,254l14,-5v18l-14,5zM1040,303h17v18h-17zM1078,303h17v18h-17zM1108,303h17v18h-17zM962,325l14,-5v18l-14,5zM994,311l14,-5v18l-14,5zM1040,361h17v18h-17zM1078,361h17v18h-17zM1108,361h17v18h-17zM962,383l14,-5v18l-14,5zM994,369l14,-5v18l-14,5zM1040,416h17v18h-17zM1078,416h17v18h-17zM1108,416h17v18h-17zM962,438l14,-5v18l-14,5zM994,424l14,-5v18l-14,5zM1040,476h17v18h-17zM1078,476h17v18h-17zM1108,476h17v18h-17zM962,498l14,-5v18l-14,5zM994,484l14,-5v18l-14,5zM1040,541h17v18h-17zM1078,541h17v18h-17zM1108,541h17v18h-17zM962,563l14,-5v18l-14,5zM994,549l14,-5v18l-14,5zM1040,601h17v18h-17zM1078,601h17v18h-17zM1108,601h17v18h-17zM962,623l14,-5v18l-14,5zM994,609l14,-5v18l-14,5zM1040,651h17v18h-17zM1078,651h17v18h-17zM1108,651h17v18h-17zM962,673l14,-5v18l-14,5zM994,659l14,-5v18l-14,5zM1040,701h17v18h-17zM1078,701h17v18h-17zM1108,701h17v18h-17zM962,723l14,-5v18l-14,5zM994,709l14,-5v18l-14,5z" stroke-width="5"/>
<path d="M1162,364h42v22h-42zM1228,364h42v22h-42zM1162,424h42v22h-42zM1228,424h42v22h-42zM1162,479h42v22h-42zM1228,479h42v22h-42zM1162,534h42v22h-42zM1228,534h42v22h-42zM1162,579h42v22h-42zM1228,579h42v22h-42zM1162,629h42v22h-42zM1228,629h42v22h-42zM1162,681h42v22h-42zM1228,681h42v22h-42zM1162,731h42v22h-42z" stroke-width="5.5"/>
<path d="M1068,790V745Q1088,730 1110,745V790M1248,790V740H1290M975,790V735L990,730V790" stroke-width="6"/>
<path d="M1437,500L1440,300Q1455,215 1482,205Q1512,215 1525,300L1530,500ZM1481,280V490M1462,262Q1481,245 1500,262" stroke-width="7"/>
<path d="M1440,345L1330,455V470H1436M1525,345L1632,455V470H1531" stroke-width="7"/>
<path d="M1442,520H1525L1532,565H1430ZM1465,520L1462,565M1500,520L1503,565" stroke-width="6"/>
<path d="M1440,580Q1420,610 1445,630T1440,690Q1460,710 1470,680M1480,585Q1500,610 1480,640T1500,690M1520,585Q1535,620 1510,650Q1490,660 1520,640" stroke-width="5"/>
<g stroke-width="4.5"><polygon points="1393,113 1397,123 1407,123 1399,130 1402,140 1393,135 1384,140 1387,130 1379,123 1389,123"/><polygon points="1455,134 1459,143 1468,144 1461,150 1463,159 1455,154 1447,159 1449,150 1442,144 1451,143"/><polygon points="1400,222 1404,232 1414,232 1406,239 1409,249 1400,244 1391,249 1394,239 1386,232 1396,232"/><polygon points="1573,183 1577,193 1587,193 1579,200 1582,210 1573,205 1564,210 1567,200 1559,193 1569,193"/></g>
<path d="M271,547q2,3 -20,-9M279,592q-5,-5 -28,14M348,620q-0,3 15,27M265,572q0,5 -31,1M364,543q2,-4 25,-15M273,607q4,8 -19,14M379,549q6,-1 21,-7M365,614q-7,-6 11,11M355,615q-4,0 16,21M301,519q2,8 -10,-24M376,539q10,3 27,-15M262,568q8,1 -33,-1M370,552q1,-4 29,-10M268,598q-8,6 -30,15M308,520q5,7 -6,-19M274,602q4,-3 -13,8M376,601q10,-4 21,12M270,593q-6,-2 -13,6M355,530q7,-4 10,-11M360,619q-1,0 14,17M365,532q2,9 19,-16M332,514q-5,-4 5,-28M352,618q-10,-2 14,21M348,527q3,-9 14,-22M361,530q-3,4 20,-19M369,559q4,9 15,-3M274,544q-4,-3 -23,-12M284,530q-4,-2 -18,-18M370,568q5,-4 25,-1M266,550q-6,-1 -18,-6M367,549q-3,7 19,-8M313,508q-3,3 -3,-17M369,598q-8,1 16,9M264,559q-6,-4 -30,-5M379,578q-3,-7 30,4M276,531q-3,-2 -15,-12M309,515q-7,-10 -8,-31M363,616q-1,9 23,25M360,606q7,3 21,19M335,517q-5,-9 5,-20M351,525q-9,8 17,-25M377,543q8,2 29,-14M278,610q-4,3 -13,11M337,516q2,-3 9,-31M269,541q6,-3 -21,-11M268,558q-7,6 -30,-6" stroke-width="3.5"/>
<path d="M285,560Q275,630 320,655Q370,660 385,610Q395,560 375,530Q330,515 285,560Z" fill="#fff" stroke-width="6"/>
<path d="M310,612Q340,595 372,612Q365,628 340,622Q318,630 310,612Z" fill="#222" stroke-width="3"/>
<path d="M305,578l18,-4M345,574l20,2M335,585l-4,18" stroke-width="4"/>
<path d="M275,655Q215,680 205,740L180,825Q185,860 230,865L335,800Q380,790 395,760M275,655Q330,680 375,660Q405,700 405,770Q410,840 395,905Q310,925 232,895Q225,860 235,805" stroke-width="7"/>
<path d="M400,770L440,795L505,740Q480,735 455,748Q470,730 440,745L410,775M330,800Q350,770 400,745M335,790Q370,800 400,790" stroke-width="6"/>
<path d="M232,900Q215,1100 225,1350M392,910Q410,1100 395,1350M318,930Q330,1100 320,1350M235,905Q240,960 265,965M300,930l5,30" stroke-width="7"/>
<path d="M225,1350Q260,1345 330,1365Q355,1375 350,1392Q280,1395 225,1370ZM330,1352Q400,1345 450,1362Q460,1380 440,1388Q380,1395 335,1375Z" fill="#333" stroke-width="5"/>
</g>
<g transform="translate(2480,790) scale(0.16845)" stroke="#111" fill="none" stroke-linecap="round" stroke-linejoin="round" stroke-width="8">
<path d="M375,65L172,1275M392,68L190,1275" stroke-width="6"/>
<path d="M300,335Q310,250 380,215Q450,205 480,270L485,300Q420,270 365,300L355,380Q330,390 290,330Z" fill="#222" stroke-width="5"/>
<path d="M365,300Q420,275 482,298Q490,350 470,385L352,385Z" fill="#fff" stroke-width="5"/>
<path d="M318,270Q295,310 288,345M330,300Q312,340 318,372M345,330Q335,360 345,385M300,300Q285,320 292,332" stroke-width="6"/>
<path d="M352,375Q400,395 470,378Q470,420 430,448Q380,440 352,375Z" fill="#333" stroke-width="4"/>
<path d="M385,318l30,-5M440,314l28,4M428,330l-3,25M405,368q20,-8 40,0" stroke-width="5"/>
<path d="M345,440Q280,500 240,570Q225,610 250,620L300,615L330,400Q345,380 320,378Q295,385 300,400" stroke-width="7"/>
<path d="M400,425Q375,442 345,446M462,425Q505,436 545,446Q580,520 588,610Q590,700 575,770L570,845Q555,850 552,820L548,760M525,585Q548,640 530,720M310,600Q305,680 330,730" stroke-width="7"/>
<path d="M340,540q30,12 55,0M440,545q35,10 70,-5M420,580l-20,90M415,690l30,3" stroke-width="4"/>
<path d="M312,728Q420,780 530,718L556,925Q490,930 430,900Q360,870 303,850Z" fill="#fff" stroke-width="7"/>
<path d="M505,865l40,-25M449,872l16,-11M381,829l28,-1M478,760l17,-19M354,769l44,18M346,825l24,-9M397,844l33,-7M366,803l19,3M466,809l17,-16M401,839l38,-6M482,841l28,-6M424,851l28,10M418,792l31,10M344,815l28,19M508,809l42,15M380,820l19,16M456,875l39,8M469,833l18,4M331,779l38,-23M347,773l41,-16M334,869l19,17M458,869l44,4M482,765l38,1M466,774l37,22M342,802l32,16M376,783l22,6M473,811l26,-5M397,814l17,0M515,814l37,-17M461,858l35,1M422,844l42,-18M348,857l42,1M414,853l21,-12M368,836l24,-13" stroke-width="4"/>
<path d="M320,860Q315,960 332,1050Q345,1140 335,1205Q320,1240 298,1262Q350,1275 412,1262Q395,1230 396,1200Q395,1100 405,1040Q420,960 418,900M436,905Q440,1000 452,1050Q462,1150 455,1222Q450,1250 448,1262Q540,1285 612,1268Q600,1250 540,1240Q505,1225 505,1200Q510,1100 522,1045Q540,980 542,925M330,1050q30,15 70,-5M452,1050q35,12 70,-5" stroke-width="7"/>
<path d="M870,220Q865,140 795,140Q730,150 728,225Q740,290 810,295Q850,290 870,255" fill="#fff" stroke-width="6"/>
<path d="M820,240q15,12 30,2M750,200q15,-25 40,-25M760,250q20,25 50,25" stroke-width="4"/>
<path d="M855,285Q870,380 892,435L985,415Q1010,470 1018,520Q1050,560 1078,612Q1060,600 1050,590L1055,640Q1025,590 1010,545Q960,550 920,520Q900,480 892,435M985,540Q1000,600 1060,700Q1040,640 1045,600M895,215Q980,205 1058,148L1062,180Q1000,230 950,250Q990,300 1000,330L1062,318L1065,350Q1000,365 960,345Q920,330 900,300M985,415Q990,380 1060,370M892,437q45,15 95,-20M905,455l8,8M925,450l6,8" stroke-width="6"/>
</g>
<g transform="translate(2480,1060) scale(0.14148)" stroke="#111" fill="none" stroke-linecap="round" stroke-linejoin="round" stroke-width="9">
<circle cx="455" cy="148" r="11" fill="#111"/><path d="M455,160l-12,12l24,12l-24,12l24,12l-24,12l12,10V262" stroke-width="6"/>
<rect x="305" y="265" width="300" height="142" rx="16" fill="#fff"/>
<circle cx="388" cy="345" r="37"/><circle cx="388" cy="347" r="12" fill="#111"/><circle cx="508" cy="348" r="35"/><circle cx="508" cy="350" r="12" fill="#111"/>
<path d="M335,407V470Q450,490 565,470V407M370,415H530V452Q450,465 370,452ZM402,415v40M434,415v44M466,415v44M498,415v40" stroke-width="8"/>
<path d="M425,482V540M490,482V540M425,498H490M425,514H490M425,530H490" stroke-width="7"/>
<rect x="295" y="540" width="345" height="335" rx="22" fill="#fff"/>
<rect x="440" y="595" width="160" height="95" rx="6"/><path d="M452,645h25l8,-25l10,48l10,-40l8,22l12,-18l10,30l10,-42l8,40l8,-15h15" stroke-width="6"/>
<rect x="370" y="740" width="220" height="105" rx="6"/><circle cx="420" cy="795" r="22"/><path d="M420,795l10,-14" stroke-width="6"/>
<path d="M485,775h14M520,775h14M555,775h10M482,805h16v16h-16zM515,805h18v16h-18zM548,805h18v16h-18z" stroke-width="6"/>
<path d="M295,560Q260,570 255,605L295,650M255,605L185,690M295,650L235,712M236,625l38,32M216,648l38,34M198,672l36,34" stroke-width="8"/>
<circle cx="205" cy="730" r="37" fill="#fff"/>
<path d="M178,760L200,905M235,755L262,890M182,790l56,-8M188,825l58,-8M193,858l60,-8" stroke-width="8"/>
<path d="M200,905Q185,950 210,985L245,995Q225,960 250,935Q275,940 285,975L295,915Q270,885 262,890Z" stroke-width="8"/><path d="M198,902L262,888" stroke-width="14"/>
<path d="M640,560Q680,570 682,605L640,650M682,605L760,700M640,650L712,730M700,628l-38,32M722,655l-38,34M742,680l-34,32" stroke-width="8"/>
<circle cx="752" cy="752" r="37" fill="#fff"/>
<path d="M722,780L712,890M775,782L772,890M720,810h56M717,845h56M714,875h58" stroke-width="8"/>
<path d="M712,890Q670,900 662,925L690,980Q690,940 720,925Q750,935 745,985L788,940Q790,900 772,890Z" stroke-width="8"/><path d="M712,892L772,890" stroke-width="14"/>
<path d="M312,875Q320,940 385,940Q450,940 462,880M490,880Q500,940 560,940Q620,940 630,875" stroke-width="8"/>
<path d="M350,940V1000M420,940V1000M350,958H420M350,978H420" stroke-width="8"/>
<circle cx="385" cy="1028" r="40" fill="#fff"/>
<path d="M358,1065V1130M415,1065V1130M358,1085H415M358,1108H415" stroke-width="8"/>
<path d="M358,1130Q330,1150 332,1195H445Q445,1150 415,1130M360,1178v17M385,1178v17M420,1178v17" stroke-width="8"/>
<path d="M535,940V1000M592,940V1000M535,958H592M535,978H592" stroke-width="8"/>
<circle cx="565" cy="1028" r="40" fill="#fff"/>
<path d="M543,1065V1130M587,1065V1130M543,1085H587M543,1108H587" stroke-width="8"/>
<path d="M543,1130Q515,1150 517,1195H617Q617,1150 587,1130M545,1178v17M565,1178v17M592,1178v17" stroke-width="8"/>
<path d="M895,695Q920,690 950,712Q1000,700 1050,712Q1080,688 1108,688Q1105,730 1085,745Q1110,800 1095,850Q1160,920 1165,1020Q1160,1120 1120,1195L1060,1215L1040,1250L1020,1212L930,1205Q860,1130 838,1020Q845,900 915,845Q900,790 925,745Q900,730 895,695Z" fill="#fff" stroke-width="8"/>
<path d="M892,880q54,16 108,0t108,0M886,897q57,19 114,0t114,0M881,914q60,12 119,0t119,0M875,931q62,16 125,0t125,0M870,948q65,13 130,0t130,0M864,965q68,18 136,0t136,0M859,982q71,15 141,0t141,0M854,999q73,11 146,0t146,0M852,1016q74,11 148,0t148,0M857,1033q71,8 143,0t143,0M863,1050q69,14 137,0t137,0M868,1067q66,13 132,0t132,0M874,1084q63,10 126,0t126,0M879,1101q60,12 121,0t121,0M885,1118q58,12 115,0t115,0M890,1135q55,17 110,0t110,0M895,1152q52,10 105,0t105,0M901,1169q50,20 99,0t99,0M906,1186q47,14 94,0t94,0" stroke-width="8.5"/>
<path d="M862,1020l-10,44M1067,1178l11,52M894,1020l-4,50M901,1168l-4,32M1107,921l9,26M1083,931l4,28M910,915l-11,26M1121,1054l2,37M1096,994l8,51M1122,997l3,35M1117,914l11,28M1099,1084l7,48M1119,912l5,45M894,1080l-3,35M881,1074l-3,38M1120,917l3,37M1121,1046l7,36M915,1092l-4,44M1105,988l6,56M893,1024l-9,43M1084,1164l10,27M1077,1134l5,28M866,1049l-3,49M1101,1081l12,29M895,1138l-7,31M906,941l-10,26M1108,1147l6,44M1132,1070l9,35M1081,889l8,29M880,1028l-7,32M905,891l-8,41M1100,1168l3,53M901,888l-7,42M920,1159l-11,49M888,904l-10,26M906,1102l-10,58M864,1011l-7,29M861,1003l-9,39M1105,1090l6,48M1092,887l9,40M1098,1150l6,38M1097,1059l2,32M1100,923l4,32M888,1055l-8,30M895,1013l-10,39M1132,1002l3,39M1140,1028l11,33M1102,1022l8,37M874,1058l-5,59M1118,1117l7,45M899,1124l-5,28M1088,1171l2,26M907,886l-7,32M1129,940l7,53M1069,1162l5,46M1089,906l10,29M1116,1044l10,39M1096,1131l11,38M1119,1012l9,37M869,1032l-11,49M1081,893l10,54M893,1108l-3,33M894,1144l-6,56M1064,1179l4,53M894,982l-7,54M913,952l-4,48M910,914l-4,55M1139,1031l5,56M873,1020l-2,53M924,1138l-11,34M895,1020l-10,47M1116,1108l5,46M1089,1113l11,41M1108,942l7,50M900,982l-10,57M1130,1007l8,32M1075,1131l4,40M1091,945l11,50M1089,1159l6,58M1134,1025l6,60M866,968l-4,28M886,968l-8,26M892,963l-5,51M1099,923l11,41M885,926l-9,59M1084,1163l11,42M864,988l-5,41M1087,1122l4,53M902,884l-3,26M888,881l-10,37M1066,1174l4,25M1103,1151l8,53M1101,973l10,40M1091,982l2,60M899,1154l-4,30M1135,1033l8,35M906,894l-3,54M1129,1020l11,53M1125,991l5,28M915,1178l-6,37M1099,964l5,44M1081,922l7,33M1092,1159l2,45M893,1026l-9,57M901,1011l-2,42M1126,939l4,38M1102,975l11,58M1113,1063l2,40M1068,1174l4,32M914,1089l-8,29" stroke-width="7"/>
<path d="M1059,918l15,8M1036,873l16,2M971,886l8,2M952,845l13,4M1000,870l6,1M954,893l9,4M946,845l11,-2M959,908l10,-2M929,840l7,-0M986,924l12,7M926,867l7,2M935,885l15,-3M1060,877l13,2M1062,874l10,2M974,845l11,1M1046,860l13,5M973,916l16,-0M1059,843l12,-3M1023,848l12,-2M945,870l12,0M1037,858l11,3M977,889l8,1M1015,894l12,4M1048,902l9,4M980,928l9,-2M1021,852l16,5M965,873l9,-2M979,909l8,3M1008,929l7,1M1013,891l9,-1M986,851l7,2M934,879l7,5M987,886l6,0M984,874l15,4M942,880l9,-4M935,830l15,-1M995,850l6,5M975,874l10,5M1053,851l9,3M1007,923l8,-2" stroke-width="8"/>
<circle cx="965" cy="768" r="20" stroke-width="7"/><circle cx="1045" cy="768" r="20" stroke-width="7"/><circle cx="965" cy="768" r="8" fill="#111"/><circle cx="1045" cy="768" r="8" fill="#111"/>
<path d="M925,740Q965,725 1000,760Q1040,725 1085,742M995,775L1005,825L1018,778M900,700L950,735M1105,695L1060,735" stroke-width="8"/>
</g>
<rect x="2518.0" y="782.1" width="132.9" height="20.5" fill="#fff"/>
<rect x="2541.7" y="1007.2" width="86.3" height="20.5" fill="#fff"/>
<rect x="2541.7" y="1232.1" width="86.3" height="20.5" fill="#fff"/>
<text x="2519.8" y="800.6" font-family='"Liberation Sans", sans-serif' font-size="24.5" textLength="128.9" lengthAdjust="spacingAndGlyphs" stroke="#fff" stroke-width="0.3">IMAGINING</text>
<text x="2543.6" y="1025.7" font-family='"Liberation Sans", sans-serif' font-size="24.5" textLength="82.2" lengthAdjust="spacingAndGlyphs" stroke="#fff" stroke-width="0.3">DOING</text>
<text x="2544.7" y="1250.6" font-family='"Liberation Sans", sans-serif' font-size="24.5" textLength="80.9" lengthAdjust="spacingAndGlyphs" stroke="#fff" stroke-width="0.3">SEEING</text>
<text x="2905.8" y="1403.2" font-family='"Liberation Serif", serif' font-size="21" textLength="105.8" lengthAdjust="spacingAndGlyphs">[Pearl et al.]</text>
<text transform="translate(2692.5,1397.5) rotate(-90)" font-family='"Liberation Sans", sans-serif' font-size="9" textLength="37" lengthAdjust="spacingAndGlyphs">M.HAREL</text>
</svg></body></html>
